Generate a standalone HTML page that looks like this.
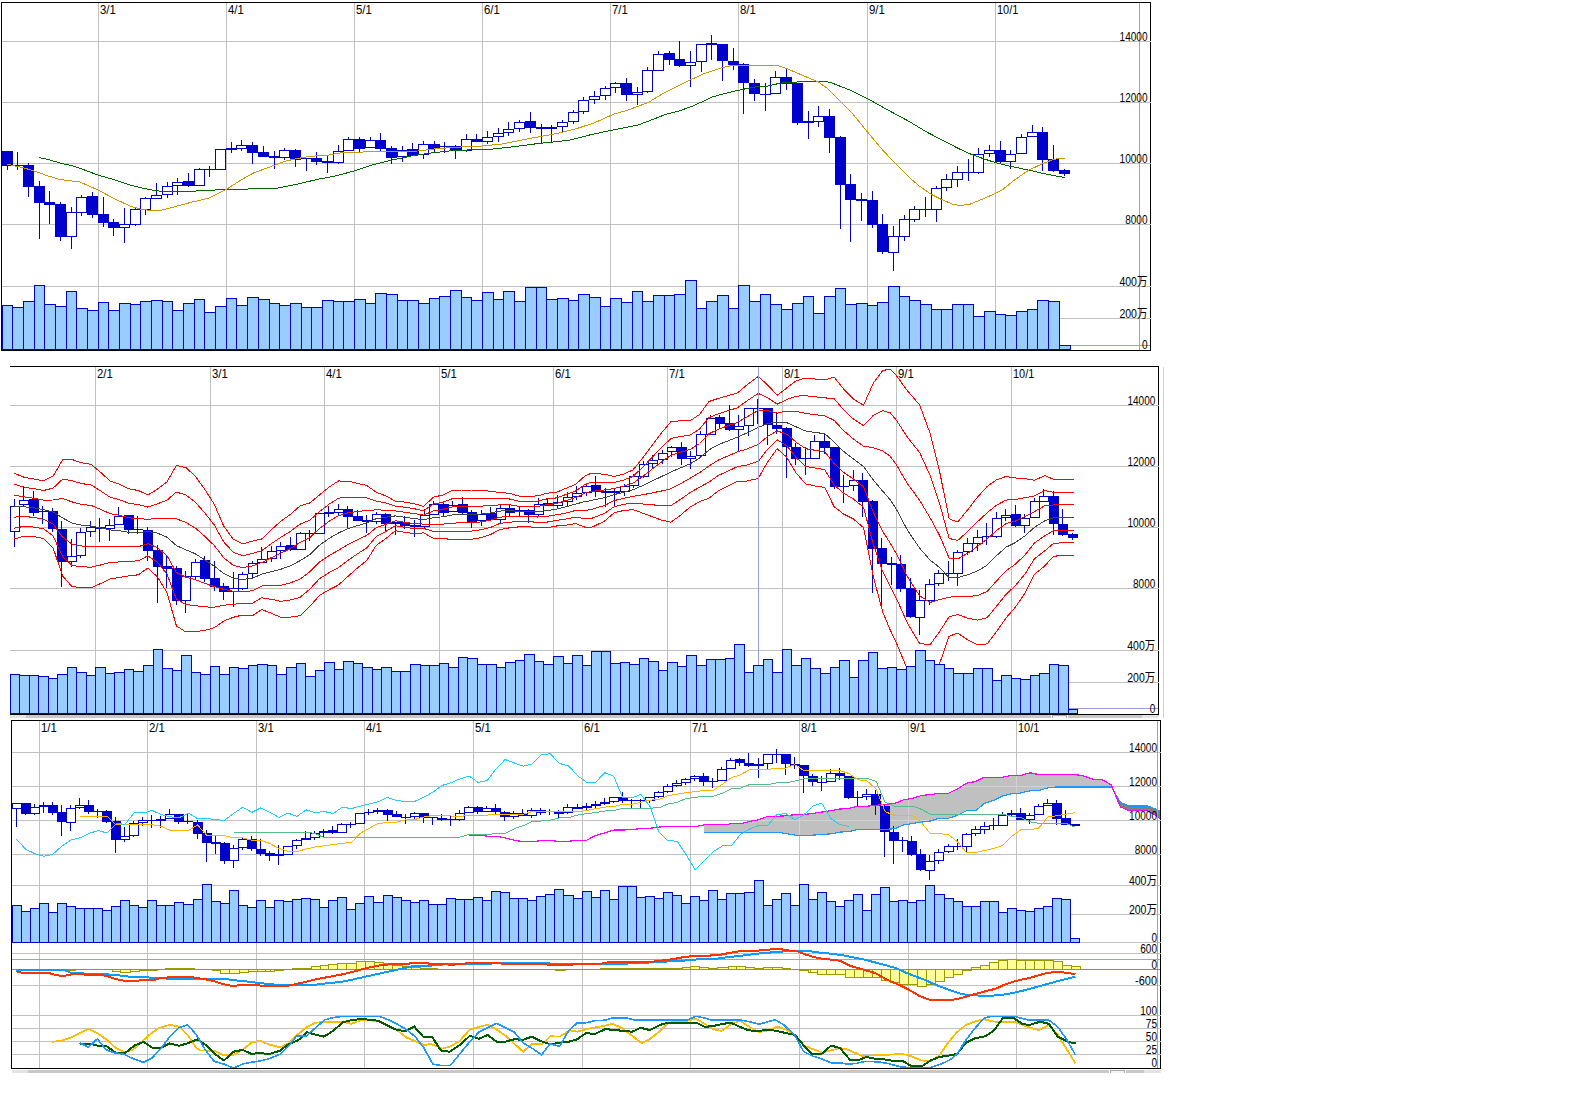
<!DOCTYPE html>
<html><head><meta charset="utf-8"><title>chart</title>
<style>
html,body{margin:0;padding:0;background:#fff;}
svg{display:block}
text{font-family:"Liberation Sans","Noto Sans CJK JP",sans-serif;font-size:12px;fill:#000}
</style></head><body>
<svg width="1582" height="1118" viewBox="0 0 1582 1118" shape-rendering="crispEdges">
<rect x="0" y="0" width="1582" height="1118" fill="#fff"/>
<g id="p1">
<rect x="98" y="2" width="1" height="348" fill="#c0c0c0"/>
<rect x="226" y="2" width="1" height="348" fill="#c0c0c0"/>
<rect x="354" y="2" width="1" height="348" fill="#c0c0c0"/>
<rect x="482" y="2" width="1" height="348" fill="#c0c0c0"/>
<rect x="610" y="2" width="1" height="348" fill="#c0c0c0"/>
<rect x="738" y="2" width="1" height="348" fill="#c0c0c0"/>
<rect x="867" y="2" width="1" height="348" fill="#c0c0c0"/>
<rect x="995" y="2" width="1" height="348" fill="#c0c0c0"/>
<rect x="2" y="41" width="1149" height="1" fill="#c0c0c0"/>
<rect x="2" y="102" width="1149" height="1" fill="#c0c0c0"/>
<rect x="2" y="163" width="1149" height="1" fill="#c0c0c0"/>
<rect x="2" y="224" width="1149" height="1" fill="#c0c0c0"/>
<rect x="2" y="286" width="1149" height="1" fill="#c0c0c0"/>
<rect x="2" y="318" width="1149" height="1" fill="#c0c0c0"/>
<rect x="2" y="345" width="1148" height="1" fill="#9c9ce0"/>
<rect x="1139" y="2" width="1" height="348" fill="#9c9ce0"/>
<rect x="7" y="151" width="1" height="19" fill="#0000cc"/>
<rect x="2" y="151" width="11" height="15" fill="#0000cc"/>
<rect x="17" y="152" width="1" height="18" fill="#0000cc"/>
<rect x="12" y="165" width="11" height="1" fill="#0000cc"/>
<rect x="28" y="163" width="1" height="34" fill="#0000cc"/>
<rect x="23" y="165" width="11" height="22" fill="#0000cc"/>
<rect x="39" y="181" width="1" height="58" fill="#0000cc"/>
<rect x="34" y="186" width="11" height="17" fill="#0000cc"/>
<rect x="49" y="191" width="1" height="33" fill="#0000cc"/>
<rect x="44" y="202" width="11" height="3" fill="#0000cc"/>
<rect x="60" y="202" width="1" height="39" fill="#0000cc"/>
<rect x="55" y="204" width="11" height="33" fill="#0000cc"/>
<rect x="71" y="207" width="1" height="42" fill="#0000cc"/>
<rect x="66.5" y="212.5" width="10" height="24" fill="#fff" stroke="#0000cc" stroke-width="1"/>
<rect x="81" y="195" width="1" height="21" fill="#0000cc"/>
<rect x="76.5" y="197.5" width="10" height="15" fill="#fff" stroke="#0000cc" stroke-width="1"/>
<rect x="92" y="192" width="1" height="26" fill="#0000cc"/>
<rect x="87" y="196" width="11" height="19" fill="#0000cc"/>
<rect x="103" y="197" width="1" height="30" fill="#0000cc"/>
<rect x="98" y="214" width="11" height="9" fill="#0000cc"/>
<rect x="113" y="219" width="1" height="17" fill="#0000cc"/>
<rect x="108" y="222" width="11" height="6" fill="#0000cc"/>
<rect x="124" y="208" width="1" height="35" fill="#0000cc"/>
<rect x="119.5" y="224.5" width="10" height="3" fill="#fff" stroke="#0000cc" stroke-width="1"/>
<rect x="135" y="208" width="1" height="18" fill="#0000cc"/>
<rect x="130.5" y="209.5" width="10" height="15" fill="#fff" stroke="#0000cc" stroke-width="1"/>
<rect x="145" y="197" width="1" height="18" fill="#0000cc"/>
<rect x="140.5" y="198.5" width="10" height="11" fill="#fff" stroke="#0000cc" stroke-width="1"/>
<rect x="156" y="183" width="1" height="16" fill="#0000cc"/>
<rect x="151.5" y="195.5" width="10" height="3" fill="#fff" stroke="#0000cc" stroke-width="1"/>
<rect x="167" y="182" width="1" height="16" fill="#0000cc"/>
<rect x="162.5" y="186.5" width="10" height="8" fill="#fff" stroke="#0000cc" stroke-width="1"/>
<rect x="177" y="178" width="1" height="17" fill="#0000cc"/>
<rect x="172.5" y="182.5" width="10" height="3" fill="#fff" stroke="#0000cc" stroke-width="1"/>
<rect x="188" y="173" width="1" height="14" fill="#0000cc"/>
<rect x="183" y="181" width="11" height="5" fill="#0000cc"/>
<rect x="199" y="168" width="1" height="18" fill="#0000cc"/>
<rect x="194.5" y="169.5" width="10" height="16" fill="#fff" stroke="#0000cc" stroke-width="1"/>
<rect x="209" y="166" width="1" height="11" fill="#0000cc"/>
<rect x="204" y="169" width="11" height="1" fill="#0000cc"/>
<rect x="220" y="149" width="1" height="21" fill="#0000cc"/>
<rect x="215.5" y="149.5" width="10" height="20" fill="#fff" stroke="#0000cc" stroke-width="1"/>
<rect x="231" y="142" width="1" height="11" fill="#0000cc"/>
<rect x="226" y="148" width="11" height="2" fill="#0000cc"/>
<rect x="241" y="140" width="1" height="11" fill="#0000cc"/>
<rect x="236.5" y="145.5" width="10" height="3" fill="#fff" stroke="#0000cc" stroke-width="1"/>
<rect x="252" y="142" width="1" height="22" fill="#0000cc"/>
<rect x="247" y="145" width="11" height="8" fill="#0000cc"/>
<rect x="263" y="146" width="1" height="11" fill="#0000cc"/>
<rect x="258" y="152" width="11" height="5" fill="#0000cc"/>
<rect x="274" y="151" width="1" height="18" fill="#0000cc"/>
<rect x="269" y="156" width="11" height="2" fill="#0000cc"/>
<rect x="284" y="148" width="1" height="12" fill="#0000cc"/>
<rect x="279.5" y="150.5" width="10" height="7" fill="#fff" stroke="#0000cc" stroke-width="1"/>
<rect x="295" y="149" width="1" height="18" fill="#0000cc"/>
<rect x="290" y="150" width="11" height="10" fill="#0000cc"/>
<rect x="306" y="158" width="1" height="13" fill="#0000cc"/>
<rect x="301" y="158" width="11" height="1" fill="#0000cc"/>
<rect x="316" y="152" width="1" height="13" fill="#0000cc"/>
<rect x="311" y="158" width="11" height="4" fill="#0000cc"/>
<rect x="327" y="156" width="1" height="17" fill="#0000cc"/>
<rect x="322" y="161" width="11" height="2" fill="#0000cc"/>
<rect x="338" y="145" width="1" height="19" fill="#0000cc"/>
<rect x="333.5" y="151.5" width="10" height="11" fill="#fff" stroke="#0000cc" stroke-width="1"/>
<rect x="348" y="137" width="1" height="14" fill="#0000cc"/>
<rect x="343.5" y="139.5" width="10" height="11" fill="#fff" stroke="#0000cc" stroke-width="1"/>
<rect x="359" y="137" width="1" height="15" fill="#0000cc"/>
<rect x="354" y="139" width="11" height="10" fill="#0000cc"/>
<rect x="370" y="137" width="1" height="11" fill="#0000cc"/>
<rect x="365.5" y="140.5" width="10" height="7" fill="#fff" stroke="#0000cc" stroke-width="1"/>
<rect x="380" y="133" width="1" height="18" fill="#0000cc"/>
<rect x="375" y="140" width="11" height="9" fill="#0000cc"/>
<rect x="391" y="146" width="1" height="18" fill="#0000cc"/>
<rect x="386" y="148" width="11" height="10" fill="#0000cc"/>
<rect x="402" y="146" width="1" height="16" fill="#0000cc"/>
<rect x="397.5" y="150.5" width="10" height="6" fill="#fff" stroke="#0000cc" stroke-width="1"/>
<rect x="412" y="143" width="1" height="13" fill="#0000cc"/>
<rect x="407" y="149" width="11" height="7" fill="#0000cc"/>
<rect x="423" y="141" width="1" height="18" fill="#0000cc"/>
<rect x="418.5" y="144.5" width="10" height="10" fill="#fff" stroke="#0000cc" stroke-width="1"/>
<rect x="434" y="141" width="1" height="12" fill="#0000cc"/>
<rect x="429" y="144" width="11" height="5" fill="#0000cc"/>
<rect x="444" y="142" width="1" height="11" fill="#0000cc"/>
<rect x="439" y="146" width="11" height="1" fill="#0000cc"/>
<rect x="455" y="145" width="1" height="14" fill="#0000cc"/>
<rect x="450" y="146" width="11" height="5" fill="#0000cc"/>
<rect x="466" y="134" width="1" height="18" fill="#0000cc"/>
<rect x="461.5" y="139.5" width="10" height="11" fill="#fff" stroke="#0000cc" stroke-width="1"/>
<rect x="476" y="134" width="1" height="8" fill="#0000cc"/>
<rect x="471" y="139" width="11" height="3" fill="#0000cc"/>
<rect x="487" y="131" width="1" height="13" fill="#0000cc"/>
<rect x="482.5" y="137.5" width="10" height="4" fill="#fff" stroke="#0000cc" stroke-width="1"/>
<rect x="498" y="128" width="1" height="14" fill="#0000cc"/>
<rect x="493.5" y="133.5" width="10" height="3" fill="#fff" stroke="#0000cc" stroke-width="1"/>
<rect x="508" y="122" width="1" height="14" fill="#0000cc"/>
<rect x="503.5" y="129.5" width="10" height="3" fill="#fff" stroke="#0000cc" stroke-width="1"/>
<rect x="519" y="120" width="1" height="12" fill="#0000cc"/>
<rect x="514.5" y="122.5" width="10" height="6" fill="#fff" stroke="#0000cc" stroke-width="1"/>
<rect x="530" y="112" width="1" height="21" fill="#0000cc"/>
<rect x="525" y="121" width="11" height="7" fill="#0000cc"/>
<rect x="541" y="124" width="1" height="19" fill="#0000cc"/>
<rect x="536" y="127" width="11" height="2" fill="#0000cc"/>
<rect x="551" y="125" width="1" height="17" fill="#0000cc"/>
<rect x="546" y="127" width="11" height="2" fill="#0000cc"/>
<rect x="562" y="120" width="1" height="12" fill="#0000cc"/>
<rect x="557.5" y="122.5" width="10" height="4" fill="#fff" stroke="#0000cc" stroke-width="1"/>
<rect x="573" y="110" width="1" height="14" fill="#0000cc"/>
<rect x="568.5" y="112.5" width="10" height="9" fill="#fff" stroke="#0000cc" stroke-width="1"/>
<rect x="583" y="97" width="1" height="17" fill="#0000cc"/>
<rect x="578.5" y="100.5" width="10" height="11" fill="#fff" stroke="#0000cc" stroke-width="1"/>
<rect x="594" y="91" width="1" height="13" fill="#0000cc"/>
<rect x="589.5" y="96.5" width="10" height="3" fill="#fff" stroke="#0000cc" stroke-width="1"/>
<rect x="605" y="86" width="1" height="14" fill="#0000cc"/>
<rect x="600.5" y="88.5" width="10" height="7" fill="#fff" stroke="#0000cc" stroke-width="1"/>
<rect x="615" y="82" width="1" height="11" fill="#0000cc"/>
<rect x="610.5" y="83.5" width="10" height="4" fill="#fff" stroke="#0000cc" stroke-width="1"/>
<rect x="626" y="78" width="1" height="23" fill="#0000cc"/>
<rect x="621" y="83" width="11" height="12" fill="#0000cc"/>
<rect x="637" y="87" width="1" height="18" fill="#0000cc"/>
<rect x="632.5" y="92.5" width="10" height="2" fill="#fff" stroke="#0000cc" stroke-width="1"/>
<rect x="647" y="67" width="1" height="26" fill="#0000cc"/>
<rect x="642.5" y="70.5" width="10" height="21" fill="#fff" stroke="#0000cc" stroke-width="1"/>
<rect x="658" y="51" width="1" height="20" fill="#0000cc"/>
<rect x="653.5" y="54.5" width="10" height="16" fill="#fff" stroke="#0000cc" stroke-width="1"/>
<rect x="669" y="51" width="1" height="14" fill="#0000cc"/>
<rect x="664" y="53" width="11" height="7" fill="#0000cc"/>
<rect x="679" y="41" width="1" height="26" fill="#0000cc"/>
<rect x="674" y="59" width="11" height="7" fill="#0000cc"/>
<rect x="690" y="51" width="1" height="36" fill="#0000cc"/>
<rect x="685.5" y="62.5" width="10" height="3" fill="#fff" stroke="#0000cc" stroke-width="1"/>
<rect x="701" y="44" width="1" height="28" fill="#0000cc"/>
<rect x="696.5" y="44.5" width="10" height="17" fill="#fff" stroke="#0000cc" stroke-width="1"/>
<rect x="711" y="35" width="1" height="25" fill="#0000cc"/>
<rect x="706" y="43" width="11" height="2" fill="#0000cc"/>
<rect x="722" y="44" width="1" height="37" fill="#0000cc"/>
<rect x="717" y="44" width="11" height="17" fill="#0000cc"/>
<rect x="733" y="48" width="1" height="22" fill="#0000cc"/>
<rect x="728" y="61" width="11" height="4" fill="#0000cc"/>
<rect x="743" y="63" width="1" height="51" fill="#0000cc"/>
<rect x="738" y="64" width="11" height="19" fill="#0000cc"/>
<rect x="754" y="79" width="1" height="22" fill="#0000cc"/>
<rect x="749" y="83" width="11" height="11" fill="#0000cc"/>
<rect x="765" y="83" width="1" height="28" fill="#0000cc"/>
<rect x="760" y="94" width="11" height="1" fill="#0000cc"/>
<rect x="775" y="71" width="1" height="23" fill="#0000cc"/>
<rect x="770.5" y="77.5" width="10" height="16" fill="#fff" stroke="#0000cc" stroke-width="1"/>
<rect x="786" y="69" width="1" height="21" fill="#0000cc"/>
<rect x="781" y="77" width="11" height="7" fill="#0000cc"/>
<rect x="797" y="83" width="1" height="42" fill="#0000cc"/>
<rect x="792" y="83" width="11" height="40" fill="#0000cc"/>
<rect x="808" y="111" width="1" height="28" fill="#0000cc"/>
<rect x="803" y="121" width="11" height="2" fill="#0000cc"/>
<rect x="818" y="106" width="1" height="21" fill="#0000cc"/>
<rect x="813.5" y="116.5" width="10" height="5" fill="#fff" stroke="#0000cc" stroke-width="1"/>
<rect x="829" y="109" width="1" height="44" fill="#0000cc"/>
<rect x="824" y="116" width="11" height="22" fill="#0000cc"/>
<rect x="840" y="136" width="1" height="93" fill="#0000cc"/>
<rect x="835" y="137" width="11" height="48" fill="#0000cc"/>
<rect x="850" y="174" width="1" height="68" fill="#0000cc"/>
<rect x="845" y="184" width="11" height="16" fill="#0000cc"/>
<rect x="861" y="193" width="1" height="28" fill="#0000cc"/>
<rect x="856" y="199" width="11" height="2" fill="#0000cc"/>
<rect x="872" y="191" width="1" height="37" fill="#0000cc"/>
<rect x="867" y="200" width="11" height="25" fill="#0000cc"/>
<rect x="882" y="214" width="1" height="40" fill="#0000cc"/>
<rect x="877" y="224" width="11" height="28" fill="#0000cc"/>
<rect x="893" y="226" width="1" height="45" fill="#0000cc"/>
<rect x="888.5" y="236.5" width="10" height="16" fill="#fff" stroke="#0000cc" stroke-width="1"/>
<rect x="904" y="215" width="1" height="26" fill="#0000cc"/>
<rect x="899.5" y="219.5" width="10" height="17" fill="#fff" stroke="#0000cc" stroke-width="1"/>
<rect x="914" y="206" width="1" height="16" fill="#0000cc"/>
<rect x="909.5" y="209.5" width="10" height="10" fill="#fff" stroke="#0000cc" stroke-width="1"/>
<rect x="925" y="197" width="1" height="20" fill="#0000cc"/>
<rect x="920" y="209" width="11" height="1" fill="#0000cc"/>
<rect x="936" y="186" width="1" height="36" fill="#0000cc"/>
<rect x="931.5" y="188.5" width="10" height="21" fill="#fff" stroke="#0000cc" stroke-width="1"/>
<rect x="946" y="174" width="1" height="17" fill="#0000cc"/>
<rect x="941.5" y="179.5" width="10" height="8" fill="#fff" stroke="#0000cc" stroke-width="1"/>
<rect x="957" y="166" width="1" height="21" fill="#0000cc"/>
<rect x="952.5" y="172.5" width="10" height="7" fill="#fff" stroke="#0000cc" stroke-width="1"/>
<rect x="968" y="159" width="1" height="22" fill="#0000cc"/>
<rect x="963" y="172" width="11" height="1" fill="#0000cc"/>
<rect x="978" y="148" width="1" height="26" fill="#0000cc"/>
<rect x="973.5" y="154.5" width="10" height="18" fill="#fff" stroke="#0000cc" stroke-width="1"/>
<rect x="989" y="145" width="1" height="12" fill="#0000cc"/>
<rect x="984.5" y="150.5" width="10" height="3" fill="#fff" stroke="#0000cc" stroke-width="1"/>
<rect x="1000" y="141" width="1" height="22" fill="#0000cc"/>
<rect x="995" y="150" width="11" height="12" fill="#0000cc"/>
<rect x="1010" y="150" width="1" height="19" fill="#0000cc"/>
<rect x="1005.5" y="154.5" width="10" height="7" fill="#fff" stroke="#0000cc" stroke-width="1"/>
<rect x="1021" y="134" width="1" height="20" fill="#0000cc"/>
<rect x="1016.5" y="137.5" width="10" height="16" fill="#fff" stroke="#0000cc" stroke-width="1"/>
<rect x="1032" y="125" width="1" height="12" fill="#0000cc"/>
<rect x="1027.5" y="132.5" width="10" height="4" fill="#fff" stroke="#0000cc" stroke-width="1"/>
<rect x="1042" y="127" width="1" height="44" fill="#0000cc"/>
<rect x="1037" y="132" width="11" height="28" fill="#0000cc"/>
<rect x="1053" y="145" width="1" height="27" fill="#0000cc"/>
<rect x="1048" y="159" width="11" height="12" fill="#0000cc"/>
<rect x="1064" y="169" width="1" height="7" fill="#0000cc"/>
<rect x="1059" y="170" width="11" height="4" fill="#0000cc"/>
<rect x="2.5" y="305.5" width="10" height="44" fill="#99ccff" stroke="#0000cc" stroke-width="1"/>
<rect x="12.5" y="307.5" width="11" height="42" fill="#99ccff" stroke="#0000cc" stroke-width="1"/>
<rect x="23.5" y="301.5" width="11" height="48" fill="#99ccff" stroke="#0000cc" stroke-width="1"/>
<rect x="34.5" y="285.5" width="10" height="64" fill="#99ccff" stroke="#0000cc" stroke-width="1"/>
<rect x="44.5" y="304.5" width="11" height="45" fill="#99ccff" stroke="#0000cc" stroke-width="1"/>
<rect x="55.5" y="306.5" width="11" height="43" fill="#99ccff" stroke="#0000cc" stroke-width="1"/>
<rect x="66.5" y="291.5" width="10" height="58" fill="#99ccff" stroke="#0000cc" stroke-width="1"/>
<rect x="76.5" y="308.5" width="11" height="41" fill="#99ccff" stroke="#0000cc" stroke-width="1"/>
<rect x="87.5" y="310.5" width="11" height="39" fill="#99ccff" stroke="#0000cc" stroke-width="1"/>
<rect x="98.5" y="302.5" width="10" height="47" fill="#99ccff" stroke="#0000cc" stroke-width="1"/>
<rect x="108.5" y="310.5" width="11" height="39" fill="#99ccff" stroke="#0000cc" stroke-width="1"/>
<rect x="119.5" y="303.5" width="11" height="46" fill="#99ccff" stroke="#0000cc" stroke-width="1"/>
<rect x="130.5" y="304.5" width="10" height="45" fill="#99ccff" stroke="#0000cc" stroke-width="1"/>
<rect x="140.5" y="301.5" width="11" height="48" fill="#99ccff" stroke="#0000cc" stroke-width="1"/>
<rect x="151.5" y="300.5" width="11" height="49" fill="#99ccff" stroke="#0000cc" stroke-width="1"/>
<rect x="162.5" y="301.5" width="10" height="48" fill="#99ccff" stroke="#0000cc" stroke-width="1"/>
<rect x="172.5" y="310.5" width="11" height="39" fill="#99ccff" stroke="#0000cc" stroke-width="1"/>
<rect x="183.5" y="303.5" width="11" height="46" fill="#99ccff" stroke="#0000cc" stroke-width="1"/>
<rect x="194.5" y="299.5" width="10" height="50" fill="#99ccff" stroke="#0000cc" stroke-width="1"/>
<rect x="204.5" y="312.5" width="11" height="37" fill="#99ccff" stroke="#0000cc" stroke-width="1"/>
<rect x="215.5" y="306.5" width="11" height="43" fill="#99ccff" stroke="#0000cc" stroke-width="1"/>
<rect x="226.5" y="298.5" width="10" height="51" fill="#99ccff" stroke="#0000cc" stroke-width="1"/>
<rect x="236.5" y="305.5" width="11" height="44" fill="#99ccff" stroke="#0000cc" stroke-width="1"/>
<rect x="247.5" y="297.5" width="11" height="52" fill="#99ccff" stroke="#0000cc" stroke-width="1"/>
<rect x="258.5" y="299.5" width="11" height="50" fill="#99ccff" stroke="#0000cc" stroke-width="1"/>
<rect x="269.5" y="303.5" width="10" height="46" fill="#99ccff" stroke="#0000cc" stroke-width="1"/>
<rect x="279.5" y="305.5" width="11" height="44" fill="#99ccff" stroke="#0000cc" stroke-width="1"/>
<rect x="290.5" y="303.5" width="11" height="46" fill="#99ccff" stroke="#0000cc" stroke-width="1"/>
<rect x="301.5" y="307.5" width="10" height="42" fill="#99ccff" stroke="#0000cc" stroke-width="1"/>
<rect x="311.5" y="307.5" width="11" height="42" fill="#99ccff" stroke="#0000cc" stroke-width="1"/>
<rect x="322.5" y="300.5" width="11" height="49" fill="#99ccff" stroke="#0000cc" stroke-width="1"/>
<rect x="333.5" y="301.5" width="10" height="48" fill="#99ccff" stroke="#0000cc" stroke-width="1"/>
<rect x="343.5" y="301.5" width="11" height="48" fill="#99ccff" stroke="#0000cc" stroke-width="1"/>
<rect x="354.5" y="299.5" width="11" height="50" fill="#99ccff" stroke="#0000cc" stroke-width="1"/>
<rect x="365.5" y="303.5" width="10" height="46" fill="#99ccff" stroke="#0000cc" stroke-width="1"/>
<rect x="375.5" y="293.5" width="11" height="56" fill="#99ccff" stroke="#0000cc" stroke-width="1"/>
<rect x="386.5" y="294.5" width="11" height="55" fill="#99ccff" stroke="#0000cc" stroke-width="1"/>
<rect x="397.5" y="300.5" width="10" height="49" fill="#99ccff" stroke="#0000cc" stroke-width="1"/>
<rect x="407.5" y="300.5" width="11" height="49" fill="#99ccff" stroke="#0000cc" stroke-width="1"/>
<rect x="418.5" y="303.5" width="11" height="46" fill="#99ccff" stroke="#0000cc" stroke-width="1"/>
<rect x="429.5" y="298.5" width="10" height="51" fill="#99ccff" stroke="#0000cc" stroke-width="1"/>
<rect x="439.5" y="296.5" width="11" height="53" fill="#99ccff" stroke="#0000cc" stroke-width="1"/>
<rect x="450.5" y="290.5" width="11" height="59" fill="#99ccff" stroke="#0000cc" stroke-width="1"/>
<rect x="461.5" y="297.5" width="10" height="52" fill="#99ccff" stroke="#0000cc" stroke-width="1"/>
<rect x="471.5" y="300.5" width="11" height="49" fill="#99ccff" stroke="#0000cc" stroke-width="1"/>
<rect x="482.5" y="292.5" width="11" height="57" fill="#99ccff" stroke="#0000cc" stroke-width="1"/>
<rect x="493.5" y="299.5" width="10" height="50" fill="#99ccff" stroke="#0000cc" stroke-width="1"/>
<rect x="503.5" y="291.5" width="11" height="58" fill="#99ccff" stroke="#0000cc" stroke-width="1"/>
<rect x="514.5" y="301.5" width="11" height="48" fill="#99ccff" stroke="#0000cc" stroke-width="1"/>
<rect x="525.5" y="287.5" width="11" height="62" fill="#99ccff" stroke="#0000cc" stroke-width="1"/>
<rect x="536.5" y="287.5" width="10" height="62" fill="#99ccff" stroke="#0000cc" stroke-width="1"/>
<rect x="546.5" y="299.5" width="11" height="50" fill="#99ccff" stroke="#0000cc" stroke-width="1"/>
<rect x="557.5" y="298.5" width="11" height="51" fill="#99ccff" stroke="#0000cc" stroke-width="1"/>
<rect x="568.5" y="300.5" width="10" height="49" fill="#99ccff" stroke="#0000cc" stroke-width="1"/>
<rect x="578.5" y="294.5" width="11" height="55" fill="#99ccff" stroke="#0000cc" stroke-width="1"/>
<rect x="589.5" y="297.5" width="11" height="52" fill="#99ccff" stroke="#0000cc" stroke-width="1"/>
<rect x="600.5" y="306.5" width="10" height="43" fill="#99ccff" stroke="#0000cc" stroke-width="1"/>
<rect x="610.5" y="298.5" width="11" height="51" fill="#99ccff" stroke="#0000cc" stroke-width="1"/>
<rect x="621.5" y="302.5" width="11" height="47" fill="#99ccff" stroke="#0000cc" stroke-width="1"/>
<rect x="632.5" y="291.5" width="10" height="58" fill="#99ccff" stroke="#0000cc" stroke-width="1"/>
<rect x="642.5" y="301.5" width="11" height="48" fill="#99ccff" stroke="#0000cc" stroke-width="1"/>
<rect x="653.5" y="295.5" width="11" height="54" fill="#99ccff" stroke="#0000cc" stroke-width="1"/>
<rect x="664.5" y="295.5" width="10" height="54" fill="#99ccff" stroke="#0000cc" stroke-width="1"/>
<rect x="674.5" y="294.5" width="11" height="55" fill="#99ccff" stroke="#0000cc" stroke-width="1"/>
<rect x="685.5" y="280.5" width="11" height="69" fill="#99ccff" stroke="#0000cc" stroke-width="1"/>
<rect x="696.5" y="308.5" width="10" height="41" fill="#99ccff" stroke="#0000cc" stroke-width="1"/>
<rect x="706.5" y="301.5" width="11" height="48" fill="#99ccff" stroke="#0000cc" stroke-width="1"/>
<rect x="717.5" y="295.5" width="11" height="54" fill="#99ccff" stroke="#0000cc" stroke-width="1"/>
<rect x="728.5" y="308.5" width="10" height="41" fill="#99ccff" stroke="#0000cc" stroke-width="1"/>
<rect x="738.5" y="285.5" width="11" height="64" fill="#99ccff" stroke="#0000cc" stroke-width="1"/>
<rect x="749.5" y="301.5" width="11" height="48" fill="#99ccff" stroke="#0000cc" stroke-width="1"/>
<rect x="760.5" y="294.5" width="10" height="55" fill="#99ccff" stroke="#0000cc" stroke-width="1"/>
<rect x="770.5" y="304.5" width="11" height="45" fill="#99ccff" stroke="#0000cc" stroke-width="1"/>
<rect x="781.5" y="309.5" width="11" height="40" fill="#99ccff" stroke="#0000cc" stroke-width="1"/>
<rect x="792.5" y="303.5" width="11" height="46" fill="#99ccff" stroke="#0000cc" stroke-width="1"/>
<rect x="803.5" y="296.5" width="10" height="53" fill="#99ccff" stroke="#0000cc" stroke-width="1"/>
<rect x="813.5" y="313.5" width="11" height="36" fill="#99ccff" stroke="#0000cc" stroke-width="1"/>
<rect x="824.5" y="296.5" width="11" height="53" fill="#99ccff" stroke="#0000cc" stroke-width="1"/>
<rect x="835.5" y="288.5" width="10" height="61" fill="#99ccff" stroke="#0000cc" stroke-width="1"/>
<rect x="845.5" y="304.5" width="11" height="45" fill="#99ccff" stroke="#0000cc" stroke-width="1"/>
<rect x="856.5" y="303.5" width="11" height="46" fill="#99ccff" stroke="#0000cc" stroke-width="1"/>
<rect x="867.5" y="305.5" width="10" height="44" fill="#99ccff" stroke="#0000cc" stroke-width="1"/>
<rect x="877.5" y="302.5" width="11" height="47" fill="#99ccff" stroke="#0000cc" stroke-width="1"/>
<rect x="888.5" y="286.5" width="11" height="63" fill="#99ccff" stroke="#0000cc" stroke-width="1"/>
<rect x="899.5" y="296.5" width="10" height="53" fill="#99ccff" stroke="#0000cc" stroke-width="1"/>
<rect x="909.5" y="300.5" width="11" height="49" fill="#99ccff" stroke="#0000cc" stroke-width="1"/>
<rect x="920.5" y="304.5" width="11" height="45" fill="#99ccff" stroke="#0000cc" stroke-width="1"/>
<rect x="931.5" y="309.5" width="10" height="40" fill="#99ccff" stroke="#0000cc" stroke-width="1"/>
<rect x="941.5" y="309.5" width="11" height="40" fill="#99ccff" stroke="#0000cc" stroke-width="1"/>
<rect x="952.5" y="304.5" width="11" height="45" fill="#99ccff" stroke="#0000cc" stroke-width="1"/>
<rect x="963.5" y="304.5" width="10" height="45" fill="#99ccff" stroke="#0000cc" stroke-width="1"/>
<rect x="973.5" y="316.5" width="11" height="33" fill="#99ccff" stroke="#0000cc" stroke-width="1"/>
<rect x="984.5" y="311.5" width="11" height="38" fill="#99ccff" stroke="#0000cc" stroke-width="1"/>
<rect x="995.5" y="314.5" width="10" height="35" fill="#99ccff" stroke="#0000cc" stroke-width="1"/>
<rect x="1005.5" y="315.5" width="11" height="34" fill="#99ccff" stroke="#0000cc" stroke-width="1"/>
<rect x="1016.5" y="311.5" width="11" height="38" fill="#99ccff" stroke="#0000cc" stroke-width="1"/>
<rect x="1027.5" y="309.5" width="10" height="40" fill="#99ccff" stroke="#0000cc" stroke-width="1"/>
<rect x="1037.5" y="300.5" width="11" height="49" fill="#99ccff" stroke="#0000cc" stroke-width="1"/>
<rect x="1048.5" y="301.5" width="11" height="48" fill="#99ccff" stroke="#0000cc" stroke-width="1"/>
<rect x="1059.5" y="345.5" width="11" height="4" fill="#99ccff" stroke="#0000cc" stroke-width="1"/>
<polyline points="39.0,157.5 50.0,160.0 60.0,163.0 75.0,166.5 98.0,175.0 115.0,180.0 130.0,185.0 140.0,187.5 152.0,190.0 163.0,191.5 190.0,191.3 226.7,189.4 276.0,188.5 297.5,184.1 316.4,179.6 335.4,175.9 354.3,171.0 369.5,165.7 391.4,160.1 412.9,155.7 431.9,152.9 450.9,150.8 471.1,149.8 492.6,149.1 514.0,146.6 539.3,143.4 558.3,141.5 570.0,140.1 590.3,134.8 615.6,129.4 638.3,124.9 653.5,119.2 666.1,114.2 678.8,111.0 691.4,106.6 704.1,100.9 711.6,97.1 729.3,92.3 742.0,89.5 754.6,87.0 766.4,86.4 780.3,83.1 803.1,81.6 822.1,81.0 830.9,82.6 851.1,90.5 867.6,98.7 889.1,110.7 908.0,120.8 927.0,132.2 942.0,140.0 959.1,148.8 971.7,154.5 984.3,159.0 997.0,163.1 1010.4,166.3 1028.7,170.1 1048.4,174.6 1064.8,177.5" fill="none" stroke="#006600" stroke-width="1"/>
<polyline points="7.0,164.2 20.0,167.0 33.0,170.5 47.0,175.6 60.0,179.5 80.0,182.0 98.0,190.0 115.0,199.0 130.0,206.0 140.0,209.0 150.0,210.5 158.0,211.0 170.0,208.0 190.0,202.6 209.0,198.0 226.7,189.1 240.6,180.3 253.2,173.1 274.0,165.4 284.8,161.3 295.0,159.0 310.0,156.3 327.8,155.2 338.5,153.1 354.4,152.2 373.3,151.8 396.5,151.3 418.0,151.0 438.2,148.5 461.0,147.0 482.5,146.0 501.4,144.1 520.4,140.3 539.3,136.7 558.3,133.3 577.6,128.3 594.7,122.7 613.0,114.4 628.2,110.0 648.4,102.4 661.1,94.6 678.8,85.7 691.4,79.4 704.1,73.7 716.7,69.3 726.8,66.4 734.4,65.3 777.2,65.4 787.9,69.0 806.9,77.2 818.3,81.9 828.4,89.2 838.5,99.3 851.1,111.9 867.6,132.2 880.2,147.3 892.1,160.2 908.5,176.7 918.6,185.5 931.3,194.4 941.4,199.4 952.7,204.2 959.1,205.5 969.2,204.5 981.8,199.4 993.3,194.4 1002.8,189.5 1014.2,180.3 1028.7,170.1 1042.4,163.8 1053.0,159.6 1059.1,158.4 1064.8,158.4" fill="none" stroke="#cc9900" stroke-width="1"/>
<rect x="1" y="2" width="1150" height="1" fill="#000"/>
<rect x="1" y="2" width="1" height="349" fill="#000"/>
<rect x="1150" y="2" width="1" height="349" fill="#000"/>
<rect x="1" y="350" width="1150" height="1" fill="#000"/>
<rect x="1150" y="41" width="1" height="1" fill="#c0c0c0"/>
<rect x="1150" y="102" width="1" height="1" fill="#c0c0c0"/>
<rect x="1150" y="163" width="1" height="1" fill="#c0c0c0"/>
<rect x="1150" y="224" width="1" height="1" fill="#c0c0c0"/>
<rect x="1150" y="286" width="1" height="1" fill="#c0c0c0"/>
<rect x="1150" y="318" width="1" height="1" fill="#c0c0c0"/>
<text x="100" y="13.6" textLength="15.8" lengthAdjust="spacingAndGlyphs">3/1</text>
<text x="228" y="13.6" textLength="15.8" lengthAdjust="spacingAndGlyphs">4/1</text>
<text x="356" y="13.6" textLength="15.8" lengthAdjust="spacingAndGlyphs">5/1</text>
<text x="484" y="13.6" textLength="15.8" lengthAdjust="spacingAndGlyphs">6/1</text>
<text x="612" y="13.6" textLength="15.8" lengthAdjust="spacingAndGlyphs">7/1</text>
<text x="740" y="13.6" textLength="15.8" lengthAdjust="spacingAndGlyphs">8/1</text>
<text x="869" y="13.6" textLength="15.8" lengthAdjust="spacingAndGlyphs">9/1</text>
<text x="997" y="13.6" textLength="21.3" lengthAdjust="spacingAndGlyphs">10/1</text>
<text x="1147.5" y="41.1" text-anchor="end" textLength="27.9" lengthAdjust="spacingAndGlyphs">14000</text>
<text x="1147.5" y="102.1" text-anchor="end" textLength="27.9" lengthAdjust="spacingAndGlyphs">12000</text>
<text x="1147.5" y="163.1" text-anchor="end" textLength="27.9" lengthAdjust="spacingAndGlyphs">10000</text>
<text x="1147.5" y="224.1" text-anchor="end" textLength="22.3" lengthAdjust="spacingAndGlyphs">8000</text>
<text x="1147.5" y="286.1" text-anchor="end" textLength="28.1" lengthAdjust="spacingAndGlyphs">400万</text>
<text x="1147.5" y="318.1" text-anchor="end" textLength="28.1" lengthAdjust="spacingAndGlyphs">200万</text>
<text x="1147.5" y="349" text-anchor="end" textLength="5.6" lengthAdjust="spacingAndGlyphs">0</text>
</g>
<g id="p2">
<rect x="95" y="367" width="1" height="346" fill="#c0c0c0"/>
<rect x="210" y="367" width="1" height="346" fill="#c0c0c0"/>
<rect x="324" y="367" width="1" height="346" fill="#c0c0c0"/>
<rect x="439" y="367" width="1" height="346" fill="#c0c0c0"/>
<rect x="553" y="367" width="1" height="346" fill="#c0c0c0"/>
<rect x="667" y="367" width="1" height="346" fill="#c0c0c0"/>
<rect x="782" y="367" width="1" height="346" fill="#c0c0c0"/>
<rect x="896" y="367" width="1" height="346" fill="#c0c0c0"/>
<rect x="1011" y="367" width="1" height="346" fill="#c0c0c0"/>
<rect x="10" y="405" width="1149" height="1" fill="#c0c0c0"/>
<rect x="10" y="466" width="1149" height="1" fill="#c0c0c0"/>
<rect x="10" y="527" width="1149" height="1" fill="#c0c0c0"/>
<rect x="10" y="588" width="1149" height="1" fill="#c0c0c0"/>
<rect x="10" y="650" width="1149" height="1" fill="#c0c0c0"/>
<rect x="10" y="682" width="1149" height="1" fill="#c0c0c0"/>
<rect x="10" y="708" width="1148" height="1" fill="#9c9ce0"/>
<rect x="14" y="499" width="1" height="48" fill="#0000cc"/>
<rect x="10.5" y="506.5" width="9" height="25" fill="#fff" stroke="#0000cc" stroke-width="1"/>
<rect x="23" y="486" width="1" height="21" fill="#0000cc"/>
<rect x="19.5" y="500.5" width="9" height="4" fill="#fff" stroke="#0000cc" stroke-width="1"/>
<rect x="33" y="491" width="1" height="25" fill="#0000cc"/>
<rect x="29" y="499" width="10" height="14" fill="#0000cc"/>
<rect x="42" y="506" width="1" height="18" fill="#0000cc"/>
<rect x="38" y="511" width="10" height="1" fill="#0000cc"/>
<rect x="52" y="508" width="1" height="24" fill="#0000cc"/>
<rect x="48" y="511" width="10" height="18" fill="#0000cc"/>
<rect x="61" y="521" width="1" height="66" fill="#0000cc"/>
<rect x="57" y="529" width="10" height="33" fill="#0000cc"/>
<rect x="71" y="539" width="1" height="28" fill="#0000cc"/>
<rect x="67.5" y="556.5" width="9" height="5" fill="#fff" stroke="#0000cc" stroke-width="1"/>
<rect x="80" y="528" width="1" height="30" fill="#0000cc"/>
<rect x="76.5" y="532.5" width="9" height="23" fill="#fff" stroke="#0000cc" stroke-width="1"/>
<rect x="90" y="521" width="1" height="16" fill="#0000cc"/>
<rect x="86.5" y="527.5" width="9" height="4" fill="#fff" stroke="#0000cc" stroke-width="1"/>
<rect x="99" y="518" width="1" height="24" fill="#0000cc"/>
<rect x="95" y="527" width="10" height="2" fill="#0000cc"/>
<rect x="109" y="519" width="1" height="22" fill="#0000cc"/>
<rect x="105.5" y="525.5" width="9" height="3" fill="#fff" stroke="#0000cc" stroke-width="1"/>
<rect x="118" y="507" width="1" height="18" fill="#0000cc"/>
<rect x="114.5" y="516.5" width="9" height="8" fill="#fff" stroke="#0000cc" stroke-width="1"/>
<rect x="128" y="515" width="1" height="19" fill="#0000cc"/>
<rect x="124" y="515" width="10" height="15" fill="#0000cc"/>
<rect x="137" y="516" width="1" height="18" fill="#0000cc"/>
<rect x="133" y="529" width="10" height="1" fill="#0000cc"/>
<rect x="147" y="527" width="1" height="34" fill="#0000cc"/>
<rect x="143" y="530" width="10" height="21" fill="#0000cc"/>
<rect x="157" y="545" width="1" height="58" fill="#0000cc"/>
<rect x="153" y="550" width="10" height="17" fill="#0000cc"/>
<rect x="166" y="555" width="1" height="33" fill="#0000cc"/>
<rect x="162" y="566" width="10" height="3" fill="#0000cc"/>
<rect x="176" y="566" width="1" height="39" fill="#0000cc"/>
<rect x="172" y="568" width="10" height="33" fill="#0000cc"/>
<rect x="185" y="571" width="1" height="42" fill="#0000cc"/>
<rect x="181.5" y="576.5" width="9" height="24" fill="#fff" stroke="#0000cc" stroke-width="1"/>
<rect x="195" y="559" width="1" height="21" fill="#0000cc"/>
<rect x="191.5" y="562.5" width="9" height="14" fill="#fff" stroke="#0000cc" stroke-width="1"/>
<rect x="204" y="556" width="1" height="26" fill="#0000cc"/>
<rect x="200" y="560" width="10" height="19" fill="#0000cc"/>
<rect x="214" y="561" width="1" height="30" fill="#0000cc"/>
<rect x="210" y="578" width="10" height="9" fill="#0000cc"/>
<rect x="223" y="583" width="1" height="17" fill="#0000cc"/>
<rect x="219" y="586" width="10" height="6" fill="#0000cc"/>
<rect x="233" y="572" width="1" height="35" fill="#0000cc"/>
<rect x="229.5" y="588.5" width="9" height="3" fill="#fff" stroke="#0000cc" stroke-width="1"/>
<rect x="242" y="572" width="1" height="18" fill="#0000cc"/>
<rect x="238.5" y="574.5" width="9" height="14" fill="#fff" stroke="#0000cc" stroke-width="1"/>
<rect x="252" y="561" width="1" height="18" fill="#0000cc"/>
<rect x="248.5" y="563.5" width="9" height="10" fill="#fff" stroke="#0000cc" stroke-width="1"/>
<rect x="261" y="547" width="1" height="16" fill="#0000cc"/>
<rect x="257.5" y="559.5" width="9" height="3" fill="#fff" stroke="#0000cc" stroke-width="1"/>
<rect x="271" y="546" width="1" height="16" fill="#0000cc"/>
<rect x="267.5" y="551.5" width="9" height="7" fill="#fff" stroke="#0000cc" stroke-width="1"/>
<rect x="280" y="542" width="1" height="17" fill="#0000cc"/>
<rect x="276.5" y="546.5" width="9" height="4" fill="#fff" stroke="#0000cc" stroke-width="1"/>
<rect x="290" y="537" width="1" height="14" fill="#0000cc"/>
<rect x="286" y="545" width="10" height="5" fill="#0000cc"/>
<rect x="300" y="532" width="1" height="18" fill="#0000cc"/>
<rect x="296.5" y="533.5" width="9" height="16" fill="#fff" stroke="#0000cc" stroke-width="1"/>
<rect x="309" y="530" width="1" height="11" fill="#0000cc"/>
<rect x="305" y="533" width="10" height="1" fill="#0000cc"/>
<rect x="319" y="513" width="1" height="21" fill="#0000cc"/>
<rect x="315.5" y="513.5" width="9" height="20" fill="#fff" stroke="#0000cc" stroke-width="1"/>
<rect x="328" y="506" width="1" height="11" fill="#0000cc"/>
<rect x="324" y="512" width="10" height="2" fill="#0000cc"/>
<rect x="338" y="504" width="1" height="11" fill="#0000cc"/>
<rect x="334.5" y="509.5" width="9" height="3" fill="#fff" stroke="#0000cc" stroke-width="1"/>
<rect x="347" y="506" width="1" height="22" fill="#0000cc"/>
<rect x="343" y="509" width="10" height="8" fill="#0000cc"/>
<rect x="357" y="510" width="1" height="11" fill="#0000cc"/>
<rect x="353" y="516" width="10" height="5" fill="#0000cc"/>
<rect x="366" y="515" width="1" height="18" fill="#0000cc"/>
<rect x="362" y="520" width="10" height="2" fill="#0000cc"/>
<rect x="376" y="512" width="1" height="12" fill="#0000cc"/>
<rect x="372.5" y="514.5" width="9" height="7" fill="#fff" stroke="#0000cc" stroke-width="1"/>
<rect x="385" y="513" width="1" height="18" fill="#0000cc"/>
<rect x="381" y="514" width="10" height="10" fill="#0000cc"/>
<rect x="395" y="522" width="1" height="13" fill="#0000cc"/>
<rect x="391" y="522" width="10" height="2" fill="#0000cc"/>
<rect x="404" y="516" width="1" height="13" fill="#0000cc"/>
<rect x="400" y="522" width="10" height="4" fill="#0000cc"/>
<rect x="414" y="520" width="1" height="17" fill="#0000cc"/>
<rect x="410" y="525" width="10" height="2" fill="#0000cc"/>
<rect x="424" y="509" width="1" height="19" fill="#0000cc"/>
<rect x="420.5" y="515.5" width="9" height="11" fill="#fff" stroke="#0000cc" stroke-width="1"/>
<rect x="433" y="501" width="1" height="14" fill="#0000cc"/>
<rect x="429.5" y="504.5" width="9" height="10" fill="#fff" stroke="#0000cc" stroke-width="1"/>
<rect x="443" y="501" width="1" height="15" fill="#0000cc"/>
<rect x="439" y="504" width="10" height="9" fill="#0000cc"/>
<rect x="452" y="501" width="1" height="11" fill="#0000cc"/>
<rect x="448.5" y="505.5" width="9" height="6" fill="#fff" stroke="#0000cc" stroke-width="1"/>
<rect x="462" y="497" width="1" height="18" fill="#0000cc"/>
<rect x="458" y="504" width="10" height="9" fill="#0000cc"/>
<rect x="471" y="510" width="1" height="18" fill="#0000cc"/>
<rect x="467" y="512" width="10" height="10" fill="#0000cc"/>
<rect x="481" y="510" width="1" height="16" fill="#0000cc"/>
<rect x="477.5" y="514.5" width="9" height="6" fill="#fff" stroke="#0000cc" stroke-width="1"/>
<rect x="490" y="507" width="1" height="13" fill="#0000cc"/>
<rect x="486" y="513" width="10" height="7" fill="#0000cc"/>
<rect x="500" y="505" width="1" height="18" fill="#0000cc"/>
<rect x="496.5" y="508.5" width="9" height="11" fill="#fff" stroke="#0000cc" stroke-width="1"/>
<rect x="509" y="505" width="1" height="12" fill="#0000cc"/>
<rect x="505" y="508" width="10" height="5" fill="#0000cc"/>
<rect x="519" y="506" width="1" height="11" fill="#0000cc"/>
<rect x="515" y="510" width="10" height="1" fill="#0000cc"/>
<rect x="528" y="509" width="1" height="14" fill="#0000cc"/>
<rect x="524" y="510" width="10" height="5" fill="#0000cc"/>
<rect x="538" y="498" width="1" height="18" fill="#0000cc"/>
<rect x="534.5" y="504.5" width="9" height="10" fill="#fff" stroke="#0000cc" stroke-width="1"/>
<rect x="547" y="498" width="1" height="8" fill="#0000cc"/>
<rect x="543" y="503" width="10" height="3" fill="#0000cc"/>
<rect x="557" y="495" width="1" height="13" fill="#0000cc"/>
<rect x="553.5" y="502.5" width="9" height="3" fill="#fff" stroke="#0000cc" stroke-width="1"/>
<rect x="567" y="492" width="1" height="14" fill="#0000cc"/>
<rect x="563.5" y="497.5" width="9" height="4" fill="#fff" stroke="#0000cc" stroke-width="1"/>
<rect x="576" y="486" width="1" height="14" fill="#0000cc"/>
<rect x="572.5" y="493.5" width="9" height="3" fill="#fff" stroke="#0000cc" stroke-width="1"/>
<rect x="586" y="484" width="1" height="12" fill="#0000cc"/>
<rect x="582.5" y="486.5" width="9" height="6" fill="#fff" stroke="#0000cc" stroke-width="1"/>
<rect x="595" y="476" width="1" height="21" fill="#0000cc"/>
<rect x="591" y="485" width="10" height="7" fill="#0000cc"/>
<rect x="605" y="488" width="1" height="19" fill="#0000cc"/>
<rect x="601" y="491" width="10" height="2" fill="#0000cc"/>
<rect x="614" y="489" width="1" height="17" fill="#0000cc"/>
<rect x="610" y="491" width="10" height="2" fill="#0000cc"/>
<rect x="624" y="484" width="1" height="12" fill="#0000cc"/>
<rect x="620.5" y="486.5" width="9" height="5" fill="#fff" stroke="#0000cc" stroke-width="1"/>
<rect x="633" y="474" width="1" height="14" fill="#0000cc"/>
<rect x="629.5" y="476.5" width="9" height="9" fill="#fff" stroke="#0000cc" stroke-width="1"/>
<rect x="643" y="461" width="1" height="17" fill="#0000cc"/>
<rect x="639.5" y="464.5" width="9" height="12" fill="#fff" stroke="#0000cc" stroke-width="1"/>
<rect x="652" y="455" width="1" height="13" fill="#0000cc"/>
<rect x="648.5" y="460.5" width="9" height="3" fill="#fff" stroke="#0000cc" stroke-width="1"/>
<rect x="662" y="450" width="1" height="14" fill="#0000cc"/>
<rect x="658.5" y="453.5" width="9" height="6" fill="#fff" stroke="#0000cc" stroke-width="1"/>
<rect x="671" y="446" width="1" height="11" fill="#0000cc"/>
<rect x="667.5" y="447.5" width="9" height="4" fill="#fff" stroke="#0000cc" stroke-width="1"/>
<rect x="681" y="442" width="1" height="23" fill="#0000cc"/>
<rect x="677" y="447" width="10" height="12" fill="#0000cc"/>
<rect x="690" y="451" width="1" height="18" fill="#0000cc"/>
<rect x="686.5" y="456.5" width="9" height="2" fill="#fff" stroke="#0000cc" stroke-width="1"/>
<rect x="700" y="431" width="1" height="26" fill="#0000cc"/>
<rect x="696.5" y="434.5" width="9" height="21" fill="#fff" stroke="#0000cc" stroke-width="1"/>
<rect x="710" y="415" width="1" height="20" fill="#0000cc"/>
<rect x="706.5" y="418.5" width="9" height="16" fill="#fff" stroke="#0000cc" stroke-width="1"/>
<rect x="719" y="415" width="1" height="14" fill="#0000cc"/>
<rect x="715" y="417" width="10" height="7" fill="#0000cc"/>
<rect x="729" y="405" width="1" height="26" fill="#0000cc"/>
<rect x="725" y="423" width="10" height="7" fill="#0000cc"/>
<rect x="738" y="415" width="1" height="36" fill="#0000cc"/>
<rect x="734.5" y="426.5" width="9" height="3" fill="#fff" stroke="#0000cc" stroke-width="1"/>
<rect x="748" y="408" width="1" height="28" fill="#0000cc"/>
<rect x="744.5" y="408.5" width="9" height="17" fill="#fff" stroke="#0000cc" stroke-width="1"/>
<rect x="757" y="399" width="1" height="25" fill="#0000cc"/>
<rect x="753" y="408" width="10" height="1" fill="#0000cc"/>
<rect x="767" y="408" width="1" height="37" fill="#0000cc"/>
<rect x="763" y="408" width="10" height="17" fill="#0000cc"/>
<rect x="776" y="412" width="1" height="22" fill="#0000cc"/>
<rect x="772" y="425" width="10" height="4" fill="#0000cc"/>
<rect x="786" y="427" width="1" height="51" fill="#0000cc"/>
<rect x="782" y="428" width="10" height="19" fill="#0000cc"/>
<rect x="795" y="443" width="1" height="22" fill="#0000cc"/>
<rect x="791" y="447" width="10" height="12" fill="#0000cc"/>
<rect x="805" y="447" width="1" height="28" fill="#0000cc"/>
<rect x="801" y="458" width="10" height="1" fill="#0000cc"/>
<rect x="814" y="435" width="1" height="24" fill="#0000cc"/>
<rect x="810.5" y="441.5" width="9" height="17" fill="#fff" stroke="#0000cc" stroke-width="1"/>
<rect x="824" y="433" width="1" height="21" fill="#0000cc"/>
<rect x="820" y="441" width="10" height="7" fill="#0000cc"/>
<rect x="834" y="447" width="1" height="42" fill="#0000cc"/>
<rect x="830" y="447" width="10" height="40" fill="#0000cc"/>
<rect x="843" y="475" width="1" height="28" fill="#0000cc"/>
<rect x="839" y="486" width="10" height="1" fill="#0000cc"/>
<rect x="853" y="470" width="1" height="21" fill="#0000cc"/>
<rect x="849.5" y="480.5" width="9" height="5" fill="#fff" stroke="#0000cc" stroke-width="1"/>
<rect x="862" y="473" width="1" height="44" fill="#0000cc"/>
<rect x="858" y="480" width="10" height="22" fill="#0000cc"/>
<rect x="872" y="500" width="1" height="93" fill="#0000cc"/>
<rect x="868" y="501" width="10" height="48" fill="#0000cc"/>
<rect x="881" y="538" width="1" height="68" fill="#0000cc"/>
<rect x="877" y="548" width="10" height="16" fill="#0000cc"/>
<rect x="891" y="557" width="1" height="28" fill="#0000cc"/>
<rect x="887" y="563" width="10" height="2" fill="#0000cc"/>
<rect x="900" y="555" width="1" height="37" fill="#0000cc"/>
<rect x="896" y="564" width="10" height="25" fill="#0000cc"/>
<rect x="910" y="578" width="1" height="40" fill="#0000cc"/>
<rect x="906" y="588" width="10" height="29" fill="#0000cc"/>
<rect x="919" y="590" width="1" height="45" fill="#0000cc"/>
<rect x="915.5" y="600.5" width="9" height="17" fill="#fff" stroke="#0000cc" stroke-width="1"/>
<rect x="929" y="579" width="1" height="26" fill="#0000cc"/>
<rect x="925.5" y="584.5" width="9" height="16" fill="#fff" stroke="#0000cc" stroke-width="1"/>
<rect x="938" y="570" width="1" height="16" fill="#0000cc"/>
<rect x="934.5" y="573.5" width="9" height="10" fill="#fff" stroke="#0000cc" stroke-width="1"/>
<rect x="948" y="561" width="1" height="20" fill="#0000cc"/>
<rect x="944" y="573" width="10" height="1" fill="#0000cc"/>
<rect x="957" y="550" width="1" height="36" fill="#0000cc"/>
<rect x="953.5" y="552.5" width="9" height="21" fill="#fff" stroke="#0000cc" stroke-width="1"/>
<rect x="967" y="538" width="1" height="17" fill="#0000cc"/>
<rect x="963.5" y="543.5" width="9" height="8" fill="#fff" stroke="#0000cc" stroke-width="1"/>
<rect x="977" y="530" width="1" height="21" fill="#0000cc"/>
<rect x="973.5" y="537.5" width="9" height="6" fill="#fff" stroke="#0000cc" stroke-width="1"/>
<rect x="986" y="523" width="1" height="22" fill="#0000cc"/>
<rect x="982" y="536" width="10" height="1" fill="#0000cc"/>
<rect x="996" y="512" width="1" height="26" fill="#0000cc"/>
<rect x="992.5" y="518.5" width="9" height="18" fill="#fff" stroke="#0000cc" stroke-width="1"/>
<rect x="1005" y="509" width="1" height="12" fill="#0000cc"/>
<rect x="1001.5" y="515.5" width="9" height="2" fill="#fff" stroke="#0000cc" stroke-width="1"/>
<rect x="1015" y="505" width="1" height="22" fill="#0000cc"/>
<rect x="1011" y="514" width="10" height="12" fill="#0000cc"/>
<rect x="1024" y="514" width="1" height="19" fill="#0000cc"/>
<rect x="1020.5" y="518.5" width="9" height="7" fill="#fff" stroke="#0000cc" stroke-width="1"/>
<rect x="1034" y="498" width="1" height="20" fill="#0000cc"/>
<rect x="1030.5" y="501.5" width="9" height="16" fill="#fff" stroke="#0000cc" stroke-width="1"/>
<rect x="1043" y="489" width="1" height="13" fill="#0000cc"/>
<rect x="1039.5" y="496.5" width="9" height="5" fill="#fff" stroke="#0000cc" stroke-width="1"/>
<rect x="1053" y="491" width="1" height="44" fill="#0000cc"/>
<rect x="1049" y="496" width="10" height="28" fill="#0000cc"/>
<rect x="1062" y="509" width="1" height="27" fill="#0000cc"/>
<rect x="1058" y="524" width="10" height="11" fill="#0000cc"/>
<rect x="1072" y="533" width="1" height="7" fill="#0000cc"/>
<rect x="1068" y="534" width="10" height="4" fill="#0000cc"/>
<clipPath id="c2"><rect x="10" y="367" width="1148" height="346"/></clipPath><g clip-path="url(#c2)">
<polyline points="14.2,473.3 24.7,477.5 34.1,479.0 43.6,480.9 53.1,476.1 62.6,459.9 72.1,459.5 81.5,462.8 91.0,464.3 100.5,472.2 110.0,480.9 119.5,484.2 129.0,488.9 138.4,490.5 147.9,495.0 157.4,489.2 166.9,481.9 176.4,465.3 185.9,467.6 195.3,476.2 204.8,489.4 214.3,504.4 223.8,526.2 233.3,539.3 242.7,543.9 252.2,541.1 261.7,539.0 271.2,529.9 280.7,521.3 290.2,514.5 300.0,505.9 309.9,502.9 319.4,495.0 328.9,487.2 338.4,481.0 347.8,481.1 357.3,483.3 366.8,485.5 376.3,492.2 385.8,495.9 395.3,501.1 404.7,502.1 414.2,503.7 423.7,506.4 433.2,497.3 442.7,495.0 452.1,490.6 461.6,490.0 471.1,490.0 480.6,490.3 490.1,491.2 499.6,492.5 509.0,493.2 518.5,496.0 528.0,496.3 537.5,495.9 547.0,493.2 556.5,492.3 565.9,488.3 575.4,484.6 584.9,476.0 590.0,473.8 595.2,473.6 604.7,474.3 614.1,476.4 623.6,474.1 633.1,469.8 642.6,458.1 652.1,445.5 661.5,432.9 671.0,421.7 680.5,420.7 690.0,420.8 699.5,414.5 709.0,401.5 718.4,398.4 727.9,395.7 737.4,393.0 746.9,384.9 758.3,376.4 767.7,385.1 777.2,395.2 786.7,388.0 796.2,380.7 805.7,378.1 815.2,379.0 824.6,379.9 834.1,377.2 843.6,388.9 853.1,398.8 863.5,405.3 873.3,383.2 882.8,370.3 890.3,369.5 896.4,375.6 907.4,390.8 919.7,405.0 930.2,433.6 939.7,471.9 949.1,518.8 957.7,522.0 968.1,509.3 977.6,497.0 987.1,486.5 996.5,479.9 1006.0,476.5 1015.5,478.0 1025.0,478.6 1034.5,480.3 1044.9,475.5 1053.4,479.3 1062.9,479.5 1073.9,479.5" fill="none" stroke="#ff0000" stroke-width="1"/>
<polyline points="14.2,484.2 24.7,487.3 34.1,488.7 43.6,490.5 53.1,488.1 62.6,479.2 72.1,480.7 81.5,483.6 91.0,484.9 100.5,490.8 110.0,497.2 119.5,499.7 129.0,503.4 138.4,504.6 147.9,507.1 157.4,503.8 166.9,500.3 176.4,492.0 185.9,495.0 195.3,502.1 204.8,512.9 214.3,525.0 223.8,542.0 233.3,552.3 242.7,555.7 252.2,553.5 261.7,550.7 271.2,543.8 280.7,537.3 290.2,531.6 300.0,524.2 309.9,520.1 319.4,511.7 328.9,504.3 338.4,498.3 347.8,497.0 357.3,497.4 366.8,497.9 376.3,501.0 385.8,503.0 395.3,506.0 404.7,507.2 414.2,508.7 423.7,510.8 433.2,504.1 442.7,502.3 452.1,498.8 461.6,498.2 471.1,498.2 480.6,498.2 490.1,498.5 499.6,498.7 509.0,498.9 518.5,501.2 528.0,501.4 537.5,501.2 547.0,498.9 556.5,497.9 565.9,494.5 575.4,491.1 584.9,484.6 590.0,482.8 595.2,482.3 604.7,482.1 614.1,482.4 623.6,480.1 633.1,476.4 642.6,467.3 652.1,457.4 661.5,447.4 671.0,438.5 680.5,436.5 690.0,435.2 699.5,429.0 709.0,417.6 718.4,413.8 727.9,410.8 737.4,407.8 746.9,400.9 758.3,393.4 767.7,397.9 777.2,404.2 786.7,399.5 796.2,396.1 805.7,395.8 815.2,396.8 824.6,397.8 834.1,398.8 843.6,409.7 853.1,418.8 863.5,425.7 873.3,415.4 882.8,410.6 890.3,412.9 896.4,420.2 907.4,437.2 919.7,452.7 930.2,475.8 939.7,503.8 949.1,538.4 957.7,540.5 968.1,531.1 977.6,521.6 987.1,512.8 996.5,505.2 1006.0,500.1 1015.5,499.5 1025.0,497.7 1034.5,495.9 1044.9,490.6 1053.4,492.2 1062.9,492.2 1073.9,492.2" fill="none" stroke="#ff0000" stroke-width="1"/>
<polyline points="14.2,495.2 24.7,497.0 34.1,498.3 43.6,500.1 53.1,500.0 62.6,498.5 72.1,501.9 81.5,504.4 91.0,505.4 100.5,509.3 110.0,513.6 119.5,515.3 129.0,517.8 138.4,518.6 147.9,519.3 157.4,518.5 166.9,518.8 176.4,518.8 185.9,522.4 195.3,528.0 204.8,536.4 214.3,545.5 223.8,557.8 233.3,565.3 242.7,567.6 252.2,566.0 261.7,562.5 271.2,557.7 280.7,553.3 290.2,548.7 300.0,542.5 309.9,537.4 319.4,528.5 328.9,521.4 338.4,515.7 347.8,512.9 357.3,511.6 366.8,510.4 376.3,509.9 385.8,510.1 395.3,510.9 404.7,512.2 414.2,513.6 423.7,515.2 433.2,510.9 442.7,509.5 452.1,506.9 461.6,506.4 471.1,506.4 480.6,506.1 490.1,505.7 499.6,504.9 509.0,504.7 518.5,506.3 528.0,506.4 537.5,506.4 547.0,504.7 556.5,503.5 565.9,500.6 575.4,497.6 584.9,493.1 590.0,491.8 595.2,491.0 604.7,489.9 614.1,488.5 623.6,486.2 633.1,483.1 642.6,476.5 652.1,469.2 661.5,461.9 671.0,455.2 680.5,452.2 690.0,449.5 699.5,443.5 709.0,433.7 718.4,429.2 727.9,425.8 737.4,422.5 746.9,416.9 758.3,410.4 767.7,410.7 777.2,413.1 786.7,411.0 796.2,411.5 805.7,413.4 815.2,414.7 824.6,415.7 834.1,420.3 843.6,430.6 853.1,438.8 863.5,446.1 873.3,447.7 882.8,450.9 890.3,456.4 896.4,464.7 907.4,483.7 919.7,500.4 930.2,518.0 939.7,535.7 949.1,558.0 957.7,559.0 968.1,552.9 977.6,546.3 987.1,539.0 996.5,530.5 1006.0,523.6 1015.5,521.0 1025.0,516.7 1034.5,511.6 1044.9,505.6 1053.4,505.0 1062.9,504.8 1073.9,504.8" fill="none" stroke="#ff0000" stroke-width="1"/>
<polyline points="14.2,517.1 24.7,516.5 34.1,517.5 43.6,519.3 53.1,524.0 62.6,537.2 72.1,544.3 81.5,546.0 91.0,546.6 100.5,546.5 110.0,546.3 119.5,546.4 129.0,546.8 138.4,546.7 147.9,543.6 157.4,547.7 166.9,555.6 176.4,572.4 185.9,577.2 195.3,579.7 204.8,583.4 214.3,586.6 223.8,589.4 233.3,591.3 242.7,591.3 252.2,590.9 261.7,586.0 271.2,585.4 280.7,585.3 290.2,582.9 300.0,579.1 309.9,571.8 319.4,562.0 328.9,555.7 338.4,550.3 347.8,544.7 357.3,539.8 366.8,535.4 376.3,527.6 385.8,524.3 395.3,520.8 404.7,522.2 414.2,523.6 423.7,524.1 433.2,524.5 442.7,524.1 452.1,523.1 461.6,522.9 471.1,522.9 480.6,521.9 490.1,520.3 499.6,517.3 509.0,516.3 518.5,516.6 528.0,516.6 537.5,517.0 547.0,516.3 556.5,514.8 565.9,513.0 575.4,510.5 584.9,510.2 590.0,509.9 595.2,508.3 604.7,505.4 614.1,500.6 623.6,498.3 633.1,496.3 642.6,494.8 652.1,492.9 661.5,491.0 671.0,488.7 680.5,483.7 690.0,478.3 699.5,472.6 709.0,466.0 718.4,460.0 727.9,456.0 737.4,451.9 746.9,449.0 758.3,444.4 767.7,436.3 777.2,430.9 786.7,434.1 796.2,442.3 805.7,448.7 815.2,450.3 824.6,451.6 834.1,463.5 843.6,472.3 853.1,478.8 863.5,486.8 873.3,512.1 882.8,531.6 890.3,543.2 896.4,553.9 907.4,576.6 919.7,595.9 930.2,602.4 939.7,599.5 949.1,597.2 957.7,596.1 968.1,596.5 977.6,595.6 987.1,591.5 996.5,581.0 1006.0,570.8 1015.5,564.0 1025.0,554.9 1034.5,543.0 1044.9,535.7 1053.4,530.7 1062.9,530.1 1073.9,530.1" fill="none" stroke="#ff0000" stroke-width="1"/>
<polyline points="14.2,528.1 24.7,526.3 34.1,527.1 43.6,528.9 53.1,536.0 62.6,556.6 72.1,565.5 81.5,566.7 91.0,567.2 100.5,565.0 110.0,562.6 119.5,561.9 129.0,561.3 138.4,560.8 147.9,555.8 157.4,562.3 166.9,574.0 176.4,599.1 185.9,604.6 195.3,605.6 204.8,606.9 214.3,607.2 223.8,605.2 233.3,604.3 242.7,603.1 252.2,603.3 261.7,597.8 271.2,599.3 280.7,601.3 290.2,600.0 300.0,597.4 309.9,589.0 319.4,578.8 328.9,572.8 338.4,567.6 347.8,560.6 357.3,553.9 366.8,547.9 376.3,536.4 385.8,531.4 395.3,525.7 404.7,527.3 414.2,528.6 423.7,528.5 433.2,531.3 442.7,531.3 452.1,531.3 461.6,531.1 471.1,531.1 480.6,529.8 490.1,527.6 499.6,523.5 509.0,522.1 518.5,521.8 528.0,521.6 537.5,522.3 547.0,522.1 556.5,520.4 565.9,519.1 575.4,517.0 584.9,518.7 590.0,518.9 595.2,517.0 604.7,513.2 614.1,506.7 623.6,504.4 633.1,503.0 642.6,504.0 652.1,504.8 661.5,505.6 671.0,505.5 680.5,499.4 690.0,492.7 699.5,487.2 709.0,482.1 718.4,475.4 727.9,471.1 737.4,466.7 746.9,465.0 758.3,461.4 767.7,449.1 777.2,439.8 786.7,445.7 796.2,457.7 805.7,466.3 815.2,468.1 824.6,469.5 834.1,485.0 843.6,493.2 853.1,498.8 863.5,507.2 873.3,544.4 882.8,571.9 890.3,586.7 896.4,598.4 907.4,623.1 919.7,643.6 930.2,644.6 939.7,631.4 949.1,616.8 957.7,614.6 968.1,618.3 977.6,620.2 987.1,617.7 996.5,606.3 1006.0,594.4 1015.5,585.5 1025.0,574.0 1034.5,558.7 1044.9,550.8 1053.4,543.5 1062.9,542.7 1073.9,542.7" fill="none" stroke="#ff0000" stroke-width="1"/>
<polyline points="14.2,539.0 24.7,536.0 34.1,536.7 43.6,538.5 53.1,547.9 62.6,575.9 72.1,586.7 81.5,587.5 91.0,587.8 100.5,583.6 110.0,578.9 119.5,577.5 129.0,575.8 138.4,574.8 147.9,567.9 157.4,577.0 166.9,592.4 176.4,625.9 185.9,632.0 195.3,631.5 204.8,630.4 214.3,627.7 223.8,621.0 233.3,617.3 242.7,615.0 252.2,615.8 261.7,609.5 271.2,613.2 280.7,617.3 290.2,617.1 300.0,615.7 309.9,606.3 319.4,595.5 328.9,589.9 338.4,585.0 347.8,576.5 357.3,568.1 366.8,560.4 376.3,545.3 385.8,538.6 395.3,530.7 404.7,532.3 414.2,533.6 423.7,532.9 433.2,538.1 442.7,538.6 452.1,539.4 461.6,539.3 471.1,539.3 480.6,537.7 490.1,534.8 499.6,529.7 509.0,527.9 518.5,526.9 528.0,526.7 537.5,527.6 547.0,527.9 556.5,526.0 565.9,525.3 575.4,523.5 584.9,527.2 590.0,527.9 595.2,525.7 604.7,521.0 614.1,512.8 623.6,510.5 633.1,509.6 642.6,513.1 652.1,516.6 661.5,520.1 671.0,522.2 680.5,515.2 690.0,507.1 699.5,501.7 709.0,498.2 718.4,490.8 727.9,486.1 737.4,481.4 746.9,481.0 758.3,478.4 767.7,461.9 777.2,448.7 786.7,457.2 796.2,473.1 805.7,483.9 815.2,486.0 824.6,487.4 834.1,506.6 843.6,514.0 853.1,518.8 863.5,527.6 873.3,576.6 882.8,612.3 890.3,630.1 896.4,643.0 907.4,669.5 919.7,691.3 930.2,686.8 939.7,663.3 949.1,636.3 957.7,633.1 968.1,640.1 977.6,644.9 987.1,643.9 996.5,631.6 1006.0,618.0 1015.5,607.0 1025.0,593.1 1034.5,574.3 1044.9,565.8 1053.4,556.3 1062.9,555.4 1073.9,555.4" fill="none" stroke="#ff0000" stroke-width="1"/>
<polyline points="14.2,506.1 24.7,506.8 34.1,507.9 43.6,509.7 53.1,512.0 62.6,517.9 72.1,523.1 81.5,525.2 91.0,526.0 100.5,527.9 110.0,529.9 119.5,530.8 129.0,532.3 138.4,532.7 147.9,531.5 157.4,533.1 166.9,537.2 176.4,545.6 185.9,549.8 195.3,553.8 204.8,559.9 214.3,566.1 223.8,573.6 233.3,578.3 242.7,579.4 252.2,578.4 261.7,574.2 271.2,571.6 280.7,569.3 290.2,565.8 300.0,560.8 309.9,554.6 319.4,545.3 328.9,538.6 338.4,533.0 347.8,528.8 357.3,525.7 366.8,522.9 376.3,518.7 385.8,517.2 395.3,515.9 404.7,517.2 414.2,518.6 423.7,519.7 433.2,517.7 442.7,516.8 452.1,515.0 461.6,514.7 471.1,514.7 480.6,514.0 490.1,513.0 499.6,511.1 509.0,510.5 518.5,511.5 528.0,511.5 537.5,511.7 547.0,510.5 556.5,509.2 565.9,506.8 575.4,504.1 584.9,501.6 590.0,500.8 595.2,499.6 604.7,497.7 614.1,494.6 623.6,492.3 633.1,489.7 642.6,485.6 652.1,481.1 661.5,476.5 671.0,472.0 680.5,467.9 690.0,463.9 699.5,458.1 709.0,449.9 718.4,444.6 727.9,440.9 737.4,437.2 746.9,433.0 758.3,427.4 767.7,423.5 777.2,422.0 786.7,422.6 796.2,426.9 805.7,431.0 815.2,432.5 824.6,433.6 834.1,441.9 843.6,451.4 853.1,458.8 863.5,466.5 873.3,479.9 882.8,491.3 890.3,499.8 896.4,509.3 907.4,530.1 919.7,548.2 930.2,560.2 939.7,567.6 949.1,577.6 957.7,577.6 968.1,574.7 977.6,570.9 987.1,565.2 996.5,555.7 1006.0,547.2 1015.5,542.5 1025.0,535.8 1034.5,527.3 1044.9,520.7 1053.4,517.8 1062.9,517.4 1073.9,517.4" fill="none" stroke="#444444" stroke-width="1"/>
</g>
<rect x="758" y="367" width="1" height="347" fill="#9c9ce0"/>
<rect x="10.5" y="674.5" width="9" height="39" fill="#99ccff" stroke="#0000cc" stroke-width="1"/>
<rect x="19.5" y="675.5" width="10" height="38" fill="#99ccff" stroke="#0000cc" stroke-width="1"/>
<rect x="29.5" y="675.5" width="9" height="38" fill="#99ccff" stroke="#0000cc" stroke-width="1"/>
<rect x="38.5" y="676.5" width="10" height="37" fill="#99ccff" stroke="#0000cc" stroke-width="1"/>
<rect x="48.5" y="678.5" width="9" height="35" fill="#99ccff" stroke="#0000cc" stroke-width="1"/>
<rect x="57.5" y="674.5" width="10" height="39" fill="#99ccff" stroke="#0000cc" stroke-width="1"/>
<rect x="67.5" y="667.5" width="9" height="46" fill="#99ccff" stroke="#0000cc" stroke-width="1"/>
<rect x="76.5" y="672.5" width="10" height="41" fill="#99ccff" stroke="#0000cc" stroke-width="1"/>
<rect x="86.5" y="675.5" width="9" height="38" fill="#99ccff" stroke="#0000cc" stroke-width="1"/>
<rect x="95.5" y="667.5" width="10" height="46" fill="#99ccff" stroke="#0000cc" stroke-width="1"/>
<rect x="105.5" y="673.5" width="9" height="40" fill="#99ccff" stroke="#0000cc" stroke-width="1"/>
<rect x="114.5" y="672.5" width="10" height="41" fill="#99ccff" stroke="#0000cc" stroke-width="1"/>
<rect x="124.5" y="669.5" width="9" height="44" fill="#99ccff" stroke="#0000cc" stroke-width="1"/>
<rect x="133.5" y="671.5" width="10" height="42" fill="#99ccff" stroke="#0000cc" stroke-width="1"/>
<rect x="143.5" y="665.5" width="10" height="48" fill="#99ccff" stroke="#0000cc" stroke-width="1"/>
<rect x="153.5" y="649.5" width="9" height="64" fill="#99ccff" stroke="#0000cc" stroke-width="1"/>
<rect x="162.5" y="668.5" width="10" height="45" fill="#99ccff" stroke="#0000cc" stroke-width="1"/>
<rect x="172.5" y="670.5" width="9" height="43" fill="#99ccff" stroke="#0000cc" stroke-width="1"/>
<rect x="181.5" y="655.5" width="10" height="58" fill="#99ccff" stroke="#0000cc" stroke-width="1"/>
<rect x="191.5" y="672.5" width="9" height="41" fill="#99ccff" stroke="#0000cc" stroke-width="1"/>
<rect x="200.5" y="674.5" width="10" height="39" fill="#99ccff" stroke="#0000cc" stroke-width="1"/>
<rect x="210.5" y="666.5" width="9" height="47" fill="#99ccff" stroke="#0000cc" stroke-width="1"/>
<rect x="219.5" y="674.5" width="10" height="39" fill="#99ccff" stroke="#0000cc" stroke-width="1"/>
<rect x="229.5" y="667.5" width="9" height="46" fill="#99ccff" stroke="#0000cc" stroke-width="1"/>
<rect x="238.5" y="668.5" width="10" height="45" fill="#99ccff" stroke="#0000cc" stroke-width="1"/>
<rect x="248.5" y="665.5" width="9" height="48" fill="#99ccff" stroke="#0000cc" stroke-width="1"/>
<rect x="257.5" y="664.5" width="10" height="49" fill="#99ccff" stroke="#0000cc" stroke-width="1"/>
<rect x="267.5" y="665.5" width="9" height="48" fill="#99ccff" stroke="#0000cc" stroke-width="1"/>
<rect x="276.5" y="674.5" width="10" height="39" fill="#99ccff" stroke="#0000cc" stroke-width="1"/>
<rect x="286.5" y="667.5" width="10" height="46" fill="#99ccff" stroke="#0000cc" stroke-width="1"/>
<rect x="296.5" y="663.5" width="9" height="50" fill="#99ccff" stroke="#0000cc" stroke-width="1"/>
<rect x="305.5" y="676.5" width="10" height="37" fill="#99ccff" stroke="#0000cc" stroke-width="1"/>
<rect x="315.5" y="670.5" width="9" height="43" fill="#99ccff" stroke="#0000cc" stroke-width="1"/>
<rect x="324.5" y="662.5" width="10" height="51" fill="#99ccff" stroke="#0000cc" stroke-width="1"/>
<rect x="334.5" y="669.5" width="9" height="44" fill="#99ccff" stroke="#0000cc" stroke-width="1"/>
<rect x="343.5" y="661.5" width="10" height="52" fill="#99ccff" stroke="#0000cc" stroke-width="1"/>
<rect x="353.5" y="663.5" width="9" height="50" fill="#99ccff" stroke="#0000cc" stroke-width="1"/>
<rect x="362.5" y="667.5" width="10" height="46" fill="#99ccff" stroke="#0000cc" stroke-width="1"/>
<rect x="372.5" y="669.5" width="9" height="44" fill="#99ccff" stroke="#0000cc" stroke-width="1"/>
<rect x="381.5" y="667.5" width="10" height="46" fill="#99ccff" stroke="#0000cc" stroke-width="1"/>
<rect x="391.5" y="671.5" width="9" height="42" fill="#99ccff" stroke="#0000cc" stroke-width="1"/>
<rect x="400.5" y="671.5" width="10" height="42" fill="#99ccff" stroke="#0000cc" stroke-width="1"/>
<rect x="410.5" y="664.5" width="10" height="49" fill="#99ccff" stroke="#0000cc" stroke-width="1"/>
<rect x="420.5" y="665.5" width="9" height="48" fill="#99ccff" stroke="#0000cc" stroke-width="1"/>
<rect x="429.5" y="665.5" width="10" height="48" fill="#99ccff" stroke="#0000cc" stroke-width="1"/>
<rect x="439.5" y="663.5" width="9" height="50" fill="#99ccff" stroke="#0000cc" stroke-width="1"/>
<rect x="448.5" y="667.5" width="10" height="46" fill="#99ccff" stroke="#0000cc" stroke-width="1"/>
<rect x="458.5" y="657.5" width="9" height="56" fill="#99ccff" stroke="#0000cc" stroke-width="1"/>
<rect x="467.5" y="658.5" width="10" height="55" fill="#99ccff" stroke="#0000cc" stroke-width="1"/>
<rect x="477.5" y="664.5" width="9" height="49" fill="#99ccff" stroke="#0000cc" stroke-width="1"/>
<rect x="486.5" y="664.5" width="10" height="49" fill="#99ccff" stroke="#0000cc" stroke-width="1"/>
<rect x="496.5" y="667.5" width="9" height="46" fill="#99ccff" stroke="#0000cc" stroke-width="1"/>
<rect x="505.5" y="662.5" width="10" height="51" fill="#99ccff" stroke="#0000cc" stroke-width="1"/>
<rect x="515.5" y="660.5" width="9" height="53" fill="#99ccff" stroke="#0000cc" stroke-width="1"/>
<rect x="524.5" y="654.5" width="10" height="59" fill="#99ccff" stroke="#0000cc" stroke-width="1"/>
<rect x="534.5" y="661.5" width="9" height="52" fill="#99ccff" stroke="#0000cc" stroke-width="1"/>
<rect x="543.5" y="664.5" width="10" height="49" fill="#99ccff" stroke="#0000cc" stroke-width="1"/>
<rect x="553.5" y="656.5" width="10" height="57" fill="#99ccff" stroke="#0000cc" stroke-width="1"/>
<rect x="563.5" y="663.5" width="9" height="50" fill="#99ccff" stroke="#0000cc" stroke-width="1"/>
<rect x="572.5" y="655.5" width="10" height="58" fill="#99ccff" stroke="#0000cc" stroke-width="1"/>
<rect x="582.5" y="665.5" width="9" height="48" fill="#99ccff" stroke="#0000cc" stroke-width="1"/>
<rect x="591.5" y="651.5" width="10" height="62" fill="#99ccff" stroke="#0000cc" stroke-width="1"/>
<rect x="601.5" y="651.5" width="9" height="62" fill="#99ccff" stroke="#0000cc" stroke-width="1"/>
<rect x="610.5" y="663.5" width="10" height="50" fill="#99ccff" stroke="#0000cc" stroke-width="1"/>
<rect x="620.5" y="662.5" width="9" height="51" fill="#99ccff" stroke="#0000cc" stroke-width="1"/>
<rect x="629.5" y="664.5" width="10" height="49" fill="#99ccff" stroke="#0000cc" stroke-width="1"/>
<rect x="639.5" y="658.5" width="9" height="55" fill="#99ccff" stroke="#0000cc" stroke-width="1"/>
<rect x="648.5" y="661.5" width="10" height="52" fill="#99ccff" stroke="#0000cc" stroke-width="1"/>
<rect x="658.5" y="670.5" width="9" height="43" fill="#99ccff" stroke="#0000cc" stroke-width="1"/>
<rect x="667.5" y="662.5" width="10" height="51" fill="#99ccff" stroke="#0000cc" stroke-width="1"/>
<rect x="677.5" y="666.5" width="9" height="47" fill="#99ccff" stroke="#0000cc" stroke-width="1"/>
<rect x="686.5" y="655.5" width="10" height="58" fill="#99ccff" stroke="#0000cc" stroke-width="1"/>
<rect x="696.5" y="665.5" width="10" height="48" fill="#99ccff" stroke="#0000cc" stroke-width="1"/>
<rect x="706.5" y="659.5" width="9" height="54" fill="#99ccff" stroke="#0000cc" stroke-width="1"/>
<rect x="715.5" y="659.5" width="10" height="54" fill="#99ccff" stroke="#0000cc" stroke-width="1"/>
<rect x="725.5" y="658.5" width="9" height="55" fill="#99ccff" stroke="#0000cc" stroke-width="1"/>
<rect x="734.5" y="644.5" width="10" height="69" fill="#99ccff" stroke="#0000cc" stroke-width="1"/>
<rect x="744.5" y="672.5" width="9" height="41" fill="#99ccff" stroke="#0000cc" stroke-width="1"/>
<rect x="753.5" y="665.5" width="10" height="48" fill="#99ccff" stroke="#0000cc" stroke-width="1"/>
<rect x="763.5" y="659.5" width="9" height="54" fill="#99ccff" stroke="#0000cc" stroke-width="1"/>
<rect x="772.5" y="672.5" width="10" height="41" fill="#99ccff" stroke="#0000cc" stroke-width="1"/>
<rect x="782.5" y="649.5" width="9" height="64" fill="#99ccff" stroke="#0000cc" stroke-width="1"/>
<rect x="791.5" y="665.5" width="10" height="48" fill="#99ccff" stroke="#0000cc" stroke-width="1"/>
<rect x="801.5" y="658.5" width="9" height="55" fill="#99ccff" stroke="#0000cc" stroke-width="1"/>
<rect x="810.5" y="668.5" width="10" height="45" fill="#99ccff" stroke="#0000cc" stroke-width="1"/>
<rect x="820.5" y="673.5" width="10" height="40" fill="#99ccff" stroke="#0000cc" stroke-width="1"/>
<rect x="830.5" y="667.5" width="9" height="46" fill="#99ccff" stroke="#0000cc" stroke-width="1"/>
<rect x="839.5" y="660.5" width="10" height="53" fill="#99ccff" stroke="#0000cc" stroke-width="1"/>
<rect x="849.5" y="677.5" width="9" height="36" fill="#99ccff" stroke="#0000cc" stroke-width="1"/>
<rect x="858.5" y="660.5" width="10" height="53" fill="#99ccff" stroke="#0000cc" stroke-width="1"/>
<rect x="868.5" y="652.5" width="9" height="61" fill="#99ccff" stroke="#0000cc" stroke-width="1"/>
<rect x="877.5" y="668.5" width="10" height="45" fill="#99ccff" stroke="#0000cc" stroke-width="1"/>
<rect x="887.5" y="667.5" width="9" height="46" fill="#99ccff" stroke="#0000cc" stroke-width="1"/>
<rect x="896.5" y="669.5" width="10" height="44" fill="#99ccff" stroke="#0000cc" stroke-width="1"/>
<rect x="906.5" y="666.5" width="9" height="47" fill="#99ccff" stroke="#0000cc" stroke-width="1"/>
<rect x="915.5" y="650.5" width="10" height="63" fill="#99ccff" stroke="#0000cc" stroke-width="1"/>
<rect x="925.5" y="660.5" width="9" height="53" fill="#99ccff" stroke="#0000cc" stroke-width="1"/>
<rect x="934.5" y="664.5" width="10" height="49" fill="#99ccff" stroke="#0000cc" stroke-width="1"/>
<rect x="944.5" y="668.5" width="9" height="45" fill="#99ccff" stroke="#0000cc" stroke-width="1"/>
<rect x="953.5" y="673.5" width="10" height="40" fill="#99ccff" stroke="#0000cc" stroke-width="1"/>
<rect x="963.5" y="673.5" width="10" height="40" fill="#99ccff" stroke="#0000cc" stroke-width="1"/>
<rect x="973.5" y="668.5" width="9" height="45" fill="#99ccff" stroke="#0000cc" stroke-width="1"/>
<rect x="982.5" y="668.5" width="10" height="45" fill="#99ccff" stroke="#0000cc" stroke-width="1"/>
<rect x="992.5" y="680.5" width="9" height="33" fill="#99ccff" stroke="#0000cc" stroke-width="1"/>
<rect x="1001.5" y="675.5" width="10" height="38" fill="#99ccff" stroke="#0000cc" stroke-width="1"/>
<rect x="1011.5" y="678.5" width="9" height="35" fill="#99ccff" stroke="#0000cc" stroke-width="1"/>
<rect x="1020.5" y="679.5" width="10" height="34" fill="#99ccff" stroke="#0000cc" stroke-width="1"/>
<rect x="1030.5" y="675.5" width="9" height="38" fill="#99ccff" stroke="#0000cc" stroke-width="1"/>
<rect x="1039.5" y="673.5" width="10" height="40" fill="#99ccff" stroke="#0000cc" stroke-width="1"/>
<rect x="1049.5" y="664.5" width="9" height="49" fill="#99ccff" stroke="#0000cc" stroke-width="1"/>
<rect x="1058.5" y="665.5" width="10" height="48" fill="#99ccff" stroke="#0000cc" stroke-width="1"/>
<rect x="1068.5" y="709.5" width="9" height="4" fill="#99ccff" stroke="#0000cc" stroke-width="1"/>
<rect x="10" y="366" width="1149" height="1" fill="#000"/>
<rect x="1158" y="366" width="1" height="349" fill="#000"/>
<rect x="10" y="714" width="1149" height="1" fill="#000"/>
<rect x="1158" y="405" width="1" height="1" fill="#c0c0c0"/>
<rect x="1158" y="466" width="1" height="1" fill="#c0c0c0"/>
<rect x="1158" y="527" width="1" height="1" fill="#c0c0c0"/>
<rect x="1158" y="588" width="1" height="1" fill="#c0c0c0"/>
<rect x="1158" y="650" width="1" height="1" fill="#c0c0c0"/>
<rect x="1158" y="682" width="1" height="1" fill="#c0c0c0"/>
<text x="97" y="377.8" textLength="15.8" lengthAdjust="spacingAndGlyphs">2/1</text>
<text x="212" y="377.8" textLength="15.8" lengthAdjust="spacingAndGlyphs">3/1</text>
<text x="326" y="377.8" textLength="15.8" lengthAdjust="spacingAndGlyphs">4/1</text>
<text x="441" y="377.8" textLength="15.8" lengthAdjust="spacingAndGlyphs">5/1</text>
<text x="555" y="377.8" textLength="15.8" lengthAdjust="spacingAndGlyphs">6/1</text>
<text x="669" y="377.8" textLength="15.8" lengthAdjust="spacingAndGlyphs">7/1</text>
<text x="784" y="377.8" textLength="15.8" lengthAdjust="spacingAndGlyphs">8/1</text>
<text x="898" y="377.8" textLength="15.8" lengthAdjust="spacingAndGlyphs">9/1</text>
<text x="1013" y="377.8" textLength="21.3" lengthAdjust="spacingAndGlyphs">10/1</text>
<text x="1155.3" y="405.1" text-anchor="end" textLength="27.9" lengthAdjust="spacingAndGlyphs">14000</text>
<text x="1155.3" y="466.1" text-anchor="end" textLength="27.9" lengthAdjust="spacingAndGlyphs">12000</text>
<text x="1155.3" y="527.1" text-anchor="end" textLength="27.9" lengthAdjust="spacingAndGlyphs">10000</text>
<text x="1155.3" y="588.1" text-anchor="end" textLength="22.3" lengthAdjust="spacingAndGlyphs">8000</text>
<text x="1155.3" y="650.1" text-anchor="end" textLength="28.1" lengthAdjust="spacingAndGlyphs">400万</text>
<text x="1155.3" y="682.1" text-anchor="end" textLength="28.1" lengthAdjust="spacingAndGlyphs">200万</text>
<text x="1155.3" y="713" text-anchor="end" textLength="5.6" lengthAdjust="spacingAndGlyphs">0</text>
<rect x="10" y="715" width="16" height="3" fill="#e4e4e4"/>
<rect x="26" y="715" width="1116" height="3" fill="#c8c8c8"/>
<rect x="1142" y="715" width="17" height="3" fill="#e4e4e4"/>
<rect x="1051" y="715" width="17" height="3" fill="#fff"/>
<rect x="1052" y="715" width="15" height="1" fill="#a8a8a8"/>
<rect x="1052" y="715" width="1" height="3" fill="#a8a8a8"/>
<rect x="1066" y="715" width="1" height="3" fill="#a8a8a8"/>
<rect x="1053" y="716" width="13" height="2" fill="#f4f4f4"/>
<rect x="1163" y="367" width="1" height="351" fill="#d0d0d0"/>
</g>
<g id="p3">
<rect x="39" y="721" width="1" height="347" fill="#c0c0c0"/>
<rect x="147" y="721" width="1" height="347" fill="#c0c0c0"/>
<rect x="256" y="721" width="1" height="347" fill="#c0c0c0"/>
<rect x="364" y="721" width="1" height="347" fill="#c0c0c0"/>
<rect x="473" y="721" width="1" height="347" fill="#c0c0c0"/>
<rect x="582" y="721" width="1" height="347" fill="#c0c0c0"/>
<rect x="690" y="721" width="1" height="347" fill="#c0c0c0"/>
<rect x="799" y="721" width="1" height="347" fill="#c0c0c0"/>
<rect x="908" y="721" width="1" height="347" fill="#c0c0c0"/>
<rect x="1016" y="721" width="1" height="347" fill="#c0c0c0"/>
<rect x="12" y="752" width="1149" height="1" fill="#c0c0c0"/>
<rect x="12" y="786" width="1149" height="1" fill="#c0c0c0"/>
<rect x="12" y="820" width="1149" height="1" fill="#c0c0c0"/>
<rect x="12" y="854" width="1149" height="1" fill="#c0c0c0"/>
<rect x="12" y="885" width="1149" height="1" fill="#c0c0c0"/>
<rect x="12" y="914" width="1149" height="1" fill="#c0c0c0"/>
<rect x="12" y="942" width="1149" height="1" fill="#c0c0c0"/>
<rect x="12" y="953" width="1149" height="1" fill="#c0c0c0"/>
<rect x="12" y="985" width="1149" height="1" fill="#c0c0c0"/>
<rect x="12" y="1015" width="1149" height="1" fill="#c0c0c0"/>
<rect x="12" y="1028" width="1149" height="1" fill="#c0c0c0"/>
<rect x="12" y="1041" width="1149" height="1" fill="#c0c0c0"/>
<rect x="12" y="1054" width="1149" height="1" fill="#c0c0c0"/>
<rect x="12" y="959" width="1148" height="1" fill="#9c9ce0"/>
<clipPath id="c3"><rect x="12" y="721" width="1148" height="221"/></clipPath><g clip-path="url(#c3)">
<polygon points="704.2,824.8 713.6,824.8 713.6,832.1 704.2,832.1" fill="#c0c0c0"/>
<polygon points="713.3,824.8 722.6,824.8 722.6,832.1 713.3,832.1" fill="#c0c0c0"/>
<polygon points="722.3,824.8 731.7,823.8 731.7,832.1 722.3,832.1" fill="#c0c0c0"/>
<polygon points="731.4,823.8 740.7,823.8 740.7,832.1 731.4,832.1" fill="#c0c0c0"/>
<polygon points="740.4,823.8 749.8,821.4 749.8,832.1 740.4,832.1" fill="#c0c0c0"/>
<polygon points="749.5,821.4 758.8,819.9 758.8,832.1 749.5,832.1" fill="#c0c0c0"/>
<polygon points="758.5,819.9 767.9,816.4 767.9,832.1 758.5,832.1" fill="#c0c0c0"/>
<polygon points="767.6,816.4 776.9,816.3 776.9,832.1 767.6,832.1" fill="#c0c0c0"/>
<polygon points="776.6,816.3 786.0,815.8 786.0,833.5 776.6,832.1" fill="#c0c0c0"/>
<polygon points="785.7,815.8 795.0,814.7 795.0,835.1 785.7,833.5" fill="#c0c0c0"/>
<polygon points="794.7,814.7 804.0,814.5 804.0,835.1 794.7,835.1" fill="#c0c0c0"/>
<polygon points="803.7,814.5 813.1,813.5 813.1,835.1 803.7,835.1" fill="#c0c0c0"/>
<polygon points="812.8,813.5 822.1,812.0 822.1,834.6 812.8,835.1" fill="#c0c0c0"/>
<polygon points="821.8,812.0 831.2,810.7 831.2,833.8 821.8,834.6" fill="#c0c0c0"/>
<polygon points="830.9,810.7 840.2,809.0 840.2,832.1 830.9,833.8" fill="#c0c0c0"/>
<polygon points="839.9,809.0 849.3,808.5 849.3,831.6 839.9,832.1" fill="#c0c0c0"/>
<polygon points="849.0,808.5 858.3,806.2 858.3,829.3 849.0,831.6" fill="#c0c0c0"/>
<polygon points="858.0,806.2 867.4,806.2 867.4,829.3 858.0,829.3" fill="#c0c0c0"/>
<polygon points="867.1,806.2 876.4,805.3 876.4,829.3 867.1,829.3" fill="#c0c0c0"/>
<polygon points="876.1,805.3 885.5,804.2 885.5,829.3 876.1,829.3" fill="#c0c0c0"/>
<polygon points="885.2,804.2 894.5,803.7 894.5,828.8 885.2,829.3" fill="#c0c0c0"/>
<polygon points="894.2,803.7 903.6,799.9 903.6,825.1 894.2,828.8" fill="#c0c0c0"/>
<polygon points="903.3,799.9 912.6,798.3 912.6,823.5 903.3,825.1" fill="#c0c0c0"/>
<polygon points="912.3,798.3 921.7,795.6 921.7,822.1 912.3,823.5" fill="#c0c0c0"/>
<polygon points="921.4,795.6 930.7,794.5 930.7,821.0 921.4,822.1" fill="#c0c0c0"/>
<polygon points="930.4,794.5 939.8,793.4 939.8,818.2 930.4,821.0" fill="#c0c0c0"/>
<polygon points="939.5,793.4 948.8,793.3 948.8,818.2 939.5,818.2" fill="#c0c0c0"/>
<polygon points="948.5,793.3 957.9,788.8 957.9,815.2 948.5,818.2" fill="#c0c0c0"/>
<polygon points="957.6,788.8 966.9,783.2 966.9,810.7 957.6,815.2" fill="#c0c0c0"/>
<polygon points="966.6,783.2 976.0,781.5 976.0,810.7 966.6,810.7" fill="#c0c0c0"/>
<polygon points="975.7,781.5 985.0,777.1 985.0,803.2 975.7,810.7" fill="#c0c0c0"/>
<polygon points="984.7,777.1 994.1,777.1 994.1,800.2 984.7,803.2" fill="#c0c0c0"/>
<polygon points="993.8,777.1 1003.1,777.1 1003.1,795.7 993.8,800.2" fill="#c0c0c0"/>
<polygon points="1002.8,777.1 1012.1,775.4 1012.1,793.8 1002.8,795.7" fill="#c0c0c0"/>
<polygon points="1011.9,775.4 1021.2,775.4 1021.2,793.0 1011.9,793.8" fill="#c0c0c0"/>
<polygon points="1020.9,775.4 1030.2,772.8 1030.2,790.8 1020.9,793.0" fill="#c0c0c0"/>
<polygon points="1029.9,772.8 1039.3,774.6 1039.3,790.4 1029.9,790.8" fill="#c0c0c0"/>
<polygon points="1039.0,774.6 1048.3,774.6 1048.3,787.9 1039.0,790.4" fill="#c0c0c0"/>
<polygon points="1048.0,774.6 1057.4,774.5 1057.4,786.9 1048.0,787.9" fill="#c0c0c0"/>
<polygon points="1057.1,774.5 1066.4,774.5 1066.4,786.9 1057.1,786.9" fill="#c0c0c0"/>
<polygon points="1066.1,774.5 1075.5,774.5 1075.5,786.9 1066.1,786.9" fill="#c0c0c0"/>
<polygon points="1075.2,774.5 1084.5,776.1 1084.5,786.9 1075.2,786.9" fill="#c0c0c0"/>
<polygon points="1084.2,776.1 1093.6,779.2 1093.6,786.9 1084.2,786.9" fill="#c0c0c0"/>
<polygon points="1093.3,779.2 1102.6,779.7 1102.6,786.9 1093.3,786.9" fill="#c0c0c0"/>
<polygon points="1102.3,779.7 1111.7,785.1 1111.7,786.9 1102.3,786.9" fill="#c0c0c0"/>
<polygon points="1111.4,785.1 1120.7,807.0 1120.7,802.4 1111.4,786.9" fill="#808080"/>
<polygon points="1120.4,807.0 1129.8,810.7 1129.8,806.0 1120.4,802.4" fill="#808080"/>
<polygon points="1129.5,810.7 1138.8,810.7 1138.8,806.0 1129.5,806.0" fill="#808080"/>
<polygon points="1138.5,810.7 1147.9,810.7 1147.9,806.0 1138.5,806.0" fill="#808080"/>
<polygon points="1147.6,810.7 1156.9,815.9 1156.9,809.3 1147.6,806.0" fill="#808080"/>
<polygon points="1156.6,815.9 1166.0,823.9 1166.0,814.1 1156.6,809.3" fill="#808080"/>
<polygon points="1165.7,823.9 1175.0,823.9 1175.0,814.1 1165.7,814.1" fill="#808080"/>
<polygon points="1174.7,823.9 1184.1,824.3 1184.1,814.1 1174.7,814.1" fill="#808080"/>
<polygon points="1183.8,824.3 1193.1,828.1 1193.1,814.1 1183.8,814.1" fill="#808080"/>
<polygon points="1192.8,828.1 1202.2,833.3 1202.2,814.1 1192.8,814.1" fill="#808080"/>
<polygon points="1201.9,833.3 1211.2,833.3 1211.2,814.1 1201.9,814.1" fill="#808080"/>
<polygon points="1210.9,833.3 1220.3,832.2 1220.3,814.1 1210.9,814.1" fill="#808080"/>
<polygon points="1220.0,832.2 1229.3,831.3 1229.3,814.1 1220.0,814.1" fill="#808080"/>
<polygon points="1229.0,831.3 1238.3,829.7 1238.3,814.1 1229.0,814.1" fill="#808080"/>
<polygon points="1238.0,829.7 1247.4,826.4 1247.4,814.1 1238.0,814.1" fill="#808080"/>
<polygon points="1247.1,826.4 1256.4,823.7 1256.4,814.1 1247.1,814.1" fill="#808080"/>
<polygon points="1256.1,823.7 1265.5,825.8 1265.5,814.1 1256.1,814.1" fill="#808080"/>
<polygon points="1265.2,825.8 1274.5,825.6 1274.5,814.1 1265.2,814.1" fill="#808080"/>
<polygon points="1274.2,825.6 1283.6,820.1 1283.6,814.1 1274.2,814.1" fill="#808080"/>
<polygon points="1283.3,820.1 1292.6,819.5 1292.6,814.1 1283.3,814.1" fill="#808080"/>
<polygon points="1292.3,819.5 1301.7,818.7 1301.7,814.1 1292.3,814.1" fill="#808080"/>
<polygon points="1301.4,818.7 1310.7,819.9 1310.7,814.1 1301.4,814.1" fill="#808080"/>
</g>
<clipPath id="cc3"><polygon points="704.2,824.8 713.6,824.8 713.6,832.1 704.2,832.1"/><polygon points="713.3,824.8 722.6,824.8 722.6,832.1 713.3,832.1"/><polygon points="722.3,824.8 731.7,823.8 731.7,832.1 722.3,832.1"/><polygon points="731.4,823.8 740.7,823.8 740.7,832.1 731.4,832.1"/><polygon points="740.4,823.8 749.8,821.4 749.8,832.1 740.4,832.1"/><polygon points="749.5,821.4 758.8,819.9 758.8,832.1 749.5,832.1"/><polygon points="758.5,819.9 767.9,816.4 767.9,832.1 758.5,832.1"/><polygon points="767.6,816.4 776.9,816.3 776.9,832.1 767.6,832.1"/><polygon points="776.6,816.3 786.0,815.8 786.0,833.5 776.6,832.1"/><polygon points="785.7,815.8 795.0,814.7 795.0,835.1 785.7,833.5"/><polygon points="794.7,814.7 804.0,814.5 804.0,835.1 794.7,835.1"/><polygon points="803.7,814.5 813.1,813.5 813.1,835.1 803.7,835.1"/><polygon points="812.8,813.5 822.1,812.0 822.1,834.6 812.8,835.1"/><polygon points="821.8,812.0 831.2,810.7 831.2,833.8 821.8,834.6"/><polygon points="830.9,810.7 840.2,809.0 840.2,832.1 830.9,833.8"/><polygon points="839.9,809.0 849.3,808.5 849.3,831.6 839.9,832.1"/><polygon points="849.0,808.5 858.3,806.2 858.3,829.3 849.0,831.6"/><polygon points="858.0,806.2 867.4,806.2 867.4,829.3 858.0,829.3"/><polygon points="867.1,806.2 876.4,805.3 876.4,829.3 867.1,829.3"/><polygon points="876.1,805.3 885.5,804.2 885.5,829.3 876.1,829.3"/><polygon points="885.2,804.2 894.5,803.7 894.5,828.8 885.2,829.3"/><polygon points="894.2,803.7 903.6,799.9 903.6,825.1 894.2,828.8"/><polygon points="903.3,799.9 912.6,798.3 912.6,823.5 903.3,825.1"/><polygon points="912.3,798.3 921.7,795.6 921.7,822.1 912.3,823.5"/><polygon points="921.4,795.6 930.7,794.5 930.7,821.0 921.4,822.1"/><polygon points="930.4,794.5 939.8,793.4 939.8,818.2 930.4,821.0"/><polygon points="939.5,793.4 948.8,793.3 948.8,818.2 939.5,818.2"/><polygon points="948.5,793.3 957.9,788.8 957.9,815.2 948.5,818.2"/><polygon points="957.6,788.8 966.9,783.2 966.9,810.7 957.6,815.2"/><polygon points="966.6,783.2 976.0,781.5 976.0,810.7 966.6,810.7"/><polygon points="975.7,781.5 985.0,777.1 985.0,803.2 975.7,810.7"/><polygon points="984.7,777.1 994.1,777.1 994.1,800.2 984.7,803.2"/><polygon points="993.8,777.1 1003.1,777.1 1003.1,795.7 993.8,800.2"/><polygon points="1002.8,777.1 1012.1,775.4 1012.1,793.8 1002.8,795.7"/><polygon points="1011.9,775.4 1021.2,775.4 1021.2,793.0 1011.9,793.8"/><polygon points="1020.9,775.4 1030.2,772.8 1030.2,790.8 1020.9,793.0"/><polygon points="1029.9,772.8 1039.3,774.6 1039.3,790.4 1029.9,790.8"/><polygon points="1039.0,774.6 1048.3,774.6 1048.3,787.9 1039.0,790.4"/><polygon points="1048.0,774.6 1057.4,774.5 1057.4,786.9 1048.0,787.9"/><polygon points="1057.1,774.5 1066.4,774.5 1066.4,786.9 1057.1,786.9"/><polygon points="1066.1,774.5 1075.5,774.5 1075.5,786.9 1066.1,786.9"/><polygon points="1075.2,774.5 1084.5,776.1 1084.5,786.9 1075.2,786.9"/><polygon points="1084.2,776.1 1093.6,779.2 1093.6,786.9 1084.2,786.9"/><polygon points="1093.3,779.2 1102.6,779.7 1102.6,786.9 1093.3,786.9"/><polygon points="1102.3,779.7 1111.7,785.1 1111.7,786.9 1102.3,786.9"/><polygon points="1111.4,785.1 1120.7,807.0 1120.7,802.4 1111.4,786.9"/><polygon points="1120.4,807.0 1129.8,810.7 1129.8,806.0 1120.4,802.4"/><polygon points="1129.5,810.7 1138.8,810.7 1138.8,806.0 1129.5,806.0"/><polygon points="1138.5,810.7 1147.9,810.7 1147.9,806.0 1138.5,806.0"/><polygon points="1147.6,810.7 1156.9,815.9 1156.9,809.3 1147.6,806.0"/><polygon points="1156.6,815.9 1166.0,823.9 1166.0,814.1 1156.6,809.3"/><polygon points="1165.7,823.9 1175.0,823.9 1175.0,814.1 1165.7,814.1"/><polygon points="1174.7,823.9 1184.1,824.3 1184.1,814.1 1174.7,814.1"/><polygon points="1183.8,824.3 1193.1,828.1 1193.1,814.1 1183.8,814.1"/><polygon points="1192.8,828.1 1202.2,833.3 1202.2,814.1 1192.8,814.1"/><polygon points="1201.9,833.3 1211.2,833.3 1211.2,814.1 1201.9,814.1"/><polygon points="1210.9,833.3 1220.3,832.2 1220.3,814.1 1210.9,814.1"/><polygon points="1220.0,832.2 1229.3,831.3 1229.3,814.1 1220.0,814.1"/><polygon points="1229.0,831.3 1238.3,829.7 1238.3,814.1 1229.0,814.1"/><polygon points="1238.0,829.7 1247.4,826.4 1247.4,814.1 1238.0,814.1"/><polygon points="1247.1,826.4 1256.4,823.7 1256.4,814.1 1247.1,814.1"/><polygon points="1256.1,823.7 1265.5,825.8 1265.5,814.1 1256.1,814.1"/><polygon points="1265.2,825.8 1274.5,825.6 1274.5,814.1 1265.2,814.1"/><polygon points="1274.2,825.6 1283.6,820.1 1283.6,814.1 1274.2,814.1"/><polygon points="1283.3,820.1 1292.6,819.5 1292.6,814.1 1283.3,814.1"/><polygon points="1292.3,819.5 1301.7,818.7 1301.7,814.1 1292.3,814.1"/><polygon points="1301.4,818.7 1310.7,819.9 1310.7,814.1 1301.4,814.1"/></clipPath><g clip-path="url(#c3)"><g clip-path="url(#cc3)">
<rect x="39" y="721" width="1" height="221" fill="#d2d2d2"/>
<rect x="147" y="721" width="1" height="221" fill="#d2d2d2"/>
<rect x="256" y="721" width="1" height="221" fill="#d2d2d2"/>
<rect x="364" y="721" width="1" height="221" fill="#d2d2d2"/>
<rect x="473" y="721" width="1" height="221" fill="#d2d2d2"/>
<rect x="582" y="721" width="1" height="221" fill="#d2d2d2"/>
<rect x="690" y="721" width="1" height="221" fill="#d2d2d2"/>
<rect x="799" y="721" width="1" height="221" fill="#d2d2d2"/>
<rect x="908" y="721" width="1" height="221" fill="#d2d2d2"/>
<rect x="1016" y="721" width="1" height="221" fill="#d2d2d2"/>
<rect x="12" y="752" width="1149" height="1" fill="#d2d2d2"/>
<rect x="12" y="786" width="1149" height="1" fill="#d2d2d2"/>
<rect x="12" y="820" width="1149" height="1" fill="#d2d2d2"/>
<rect x="12" y="854" width="1149" height="1" fill="#d2d2d2"/>
</g></g>
<rect x="16" y="803" width="1" height="24" fill="#0000cc"/>
<rect x="12.5" y="803.5" width="9" height="5" fill="#fff" stroke="#0000cc" stroke-width="1"/>
<rect x="25" y="803" width="1" height="12" fill="#0000cc"/>
<rect x="21" y="803" width="10" height="11" fill="#0000cc"/>
<rect x="34" y="804" width="1" height="11" fill="#0000cc"/>
<rect x="30.5" y="807.5" width="9" height="6" fill="#fff" stroke="#0000cc" stroke-width="1"/>
<rect x="43" y="802" width="1" height="11" fill="#0000cc"/>
<rect x="39" y="805" width="10" height="2" fill="#0000cc"/>
<rect x="52" y="802" width="1" height="13" fill="#0000cc"/>
<rect x="48" y="805" width="10" height="8" fill="#0000cc"/>
<rect x="61" y="805" width="1" height="31" fill="#0000cc"/>
<rect x="57" y="812" width="10" height="10" fill="#0000cc"/>
<rect x="70" y="805" width="1" height="26" fill="#0000cc"/>
<rect x="66.5" y="808.5" width="9" height="14" fill="#fff" stroke="#0000cc" stroke-width="1"/>
<rect x="79" y="798" width="1" height="11" fill="#0000cc"/>
<rect x="75.5" y="805.5" width="9" height="2" fill="#fff" stroke="#0000cc" stroke-width="1"/>
<rect x="88" y="800" width="1" height="14" fill="#0000cc"/>
<rect x="84" y="805" width="10" height="7" fill="#0000cc"/>
<rect x="97" y="809" width="1" height="9" fill="#0000cc"/>
<rect x="93" y="811" width="10" height="1" fill="#0000cc"/>
<rect x="106" y="810" width="1" height="13" fill="#0000cc"/>
<rect x="102" y="811" width="10" height="11" fill="#0000cc"/>
<rect x="115" y="817" width="1" height="36" fill="#0000cc"/>
<rect x="111" y="821" width="10" height="19" fill="#0000cc"/>
<rect x="124" y="827" width="1" height="15" fill="#0000cc"/>
<rect x="120.5" y="836.5" width="9" height="3" fill="#fff" stroke="#0000cc" stroke-width="1"/>
<rect x="133" y="821" width="1" height="16" fill="#0000cc"/>
<rect x="129.5" y="823.5" width="9" height="12" fill="#fff" stroke="#0000cc" stroke-width="1"/>
<rect x="142" y="817" width="1" height="9" fill="#0000cc"/>
<rect x="138.5" y="820.5" width="9" height="2" fill="#fff" stroke="#0000cc" stroke-width="1"/>
<rect x="151" y="815" width="1" height="13" fill="#0000cc"/>
<rect x="147" y="820" width="10" height="1" fill="#0000cc"/>
<rect x="160" y="816" width="1" height="12" fill="#0000cc"/>
<rect x="156" y="819" width="10" height="2" fill="#0000cc"/>
<rect x="169" y="809" width="1" height="10" fill="#0000cc"/>
<rect x="165.5" y="814.5" width="9" height="4" fill="#fff" stroke="#0000cc" stroke-width="1"/>
<rect x="178" y="814" width="1" height="10" fill="#0000cc"/>
<rect x="174" y="814" width="10" height="8" fill="#0000cc"/>
<rect x="187" y="814" width="1" height="10" fill="#0000cc"/>
<rect x="183" y="821" width="10" height="1" fill="#0000cc"/>
<rect x="197" y="820" width="1" height="19" fill="#0000cc"/>
<rect x="193" y="822" width="10" height="12" fill="#0000cc"/>
<rect x="206" y="830" width="1" height="32" fill="#0000cc"/>
<rect x="202" y="833" width="10" height="10" fill="#0000cc"/>
<rect x="215" y="836" width="1" height="18" fill="#0000cc"/>
<rect x="211" y="842" width="10" height="2" fill="#0000cc"/>
<rect x="224" y="842" width="1" height="22" fill="#0000cc"/>
<rect x="220" y="843" width="10" height="18" fill="#0000cc"/>
<rect x="233" y="845" width="1" height="23" fill="#0000cc"/>
<rect x="229.5" y="848.5" width="9" height="12" fill="#fff" stroke="#0000cc" stroke-width="1"/>
<rect x="242" y="838" width="1" height="12" fill="#0000cc"/>
<rect x="238.5" y="839.5" width="9" height="8" fill="#fff" stroke="#0000cc" stroke-width="1"/>
<rect x="251" y="836" width="1" height="15" fill="#0000cc"/>
<rect x="247" y="839" width="10" height="10" fill="#0000cc"/>
<rect x="260" y="839" width="1" height="17" fill="#0000cc"/>
<rect x="256" y="849" width="10" height="5" fill="#0000cc"/>
<rect x="269" y="851" width="1" height="10" fill="#0000cc"/>
<rect x="265" y="853" width="10" height="3" fill="#0000cc"/>
<rect x="278" y="845" width="1" height="20" fill="#0000cc"/>
<rect x="274" y="854" width="10" height="2" fill="#0000cc"/>
<rect x="287" y="846" width="1" height="9" fill="#0000cc"/>
<rect x="283.5" y="846.5" width="9" height="8" fill="#fff" stroke="#0000cc" stroke-width="1"/>
<rect x="296" y="839" width="1" height="10" fill="#0000cc"/>
<rect x="292.5" y="840.5" width="9" height="5" fill="#fff" stroke="#0000cc" stroke-width="1"/>
<rect x="305" y="831" width="1" height="9" fill="#0000cc"/>
<rect x="301" y="838" width="10" height="2" fill="#0000cc"/>
<rect x="314" y="831" width="1" height="9" fill="#0000cc"/>
<rect x="310.5" y="833.5" width="9" height="4" fill="#fff" stroke="#0000cc" stroke-width="1"/>
<rect x="323" y="829" width="1" height="9" fill="#0000cc"/>
<rect x="319" y="831" width="10" height="2" fill="#0000cc"/>
<rect x="332" y="826" width="1" height="8" fill="#0000cc"/>
<rect x="328" y="830" width="10" height="3" fill="#0000cc"/>
<rect x="341" y="823" width="1" height="10" fill="#0000cc"/>
<rect x="337.5" y="824.5" width="9" height="8" fill="#fff" stroke="#0000cc" stroke-width="1"/>
<rect x="350" y="822" width="1" height="6" fill="#0000cc"/>
<rect x="346" y="824" width="10" height="1" fill="#0000cc"/>
<rect x="359" y="813" width="1" height="11" fill="#0000cc"/>
<rect x="355.5" y="813.5" width="9" height="10" fill="#fff" stroke="#0000cc" stroke-width="1"/>
<rect x="368" y="809" width="1" height="6" fill="#0000cc"/>
<rect x="364" y="812" width="10" height="1" fill="#0000cc"/>
<rect x="377" y="808" width="1" height="6" fill="#0000cc"/>
<rect x="373" y="810" width="10" height="2" fill="#0000cc"/>
<rect x="387" y="809" width="1" height="12" fill="#0000cc"/>
<rect x="383" y="810" width="10" height="5" fill="#0000cc"/>
<rect x="396" y="811" width="1" height="6" fill="#0000cc"/>
<rect x="392" y="814" width="10" height="3" fill="#0000cc"/>
<rect x="405" y="814" width="1" height="10" fill="#0000cc"/>
<rect x="401" y="817" width="10" height="1" fill="#0000cc"/>
<rect x="414" y="812" width="1" height="7" fill="#0000cc"/>
<rect x="410.5" y="813.5" width="9" height="3" fill="#fff" stroke="#0000cc" stroke-width="1"/>
<rect x="423" y="813" width="1" height="10" fill="#0000cc"/>
<rect x="419" y="813" width="10" height="5" fill="#0000cc"/>
<rect x="432" y="817" width="1" height="8" fill="#0000cc"/>
<rect x="428" y="817" width="10" height="1" fill="#0000cc"/>
<rect x="441" y="814" width="1" height="7" fill="#0000cc"/>
<rect x="437" y="818" width="10" height="2" fill="#0000cc"/>
<rect x="450" y="816" width="1" height="10" fill="#0000cc"/>
<rect x="446" y="819" width="10" height="1" fill="#0000cc"/>
<rect x="459" y="810" width="1" height="11" fill="#0000cc"/>
<rect x="455.5" y="813.5" width="9" height="6" fill="#fff" stroke="#0000cc" stroke-width="1"/>
<rect x="468" y="806" width="1" height="7" fill="#0000cc"/>
<rect x="464.5" y="807.5" width="9" height="5" fill="#fff" stroke="#0000cc" stroke-width="1"/>
<rect x="477" y="806" width="1" height="8" fill="#0000cc"/>
<rect x="473" y="807" width="10" height="5" fill="#0000cc"/>
<rect x="486" y="806" width="1" height="6" fill="#0000cc"/>
<rect x="482.5" y="808.5" width="9" height="3" fill="#fff" stroke="#0000cc" stroke-width="1"/>
<rect x="495" y="804" width="1" height="10" fill="#0000cc"/>
<rect x="491" y="808" width="10" height="4" fill="#0000cc"/>
<rect x="504" y="811" width="1" height="10" fill="#0000cc"/>
<rect x="500" y="812" width="10" height="5" fill="#0000cc"/>
<rect x="513" y="811" width="1" height="8" fill="#0000cc"/>
<rect x="509.5" y="813.5" width="9" height="3" fill="#fff" stroke="#0000cc" stroke-width="1"/>
<rect x="522" y="809" width="1" height="7" fill="#0000cc"/>
<rect x="518" y="813" width="10" height="3" fill="#0000cc"/>
<rect x="531" y="808" width="1" height="10" fill="#0000cc"/>
<rect x="527.5" y="810.5" width="9" height="5" fill="#fff" stroke="#0000cc" stroke-width="1"/>
<rect x="540" y="808" width="1" height="7" fill="#0000cc"/>
<rect x="536" y="810" width="10" height="3" fill="#0000cc"/>
<rect x="549" y="809" width="1" height="6" fill="#0000cc"/>
<rect x="545" y="811" width="10" height="1" fill="#0000cc"/>
<rect x="558" y="810" width="1" height="8" fill="#0000cc"/>
<rect x="554" y="811" width="10" height="3" fill="#0000cc"/>
<rect x="567" y="804" width="1" height="10" fill="#0000cc"/>
<rect x="563.5" y="807.5" width="9" height="5" fill="#fff" stroke="#0000cc" stroke-width="1"/>
<rect x="577" y="804" width="1" height="5" fill="#0000cc"/>
<rect x="573" y="807" width="10" height="2" fill="#0000cc"/>
<rect x="586" y="803" width="1" height="7" fill="#0000cc"/>
<rect x="582" y="806" width="10" height="2" fill="#0000cc"/>
<rect x="595" y="801" width="1" height="7" fill="#0000cc"/>
<rect x="591" y="804" width="10" height="2" fill="#0000cc"/>
<rect x="604" y="798" width="1" height="7" fill="#0000cc"/>
<rect x="600" y="802" width="10" height="2" fill="#0000cc"/>
<rect x="613" y="797" width="1" height="6" fill="#0000cc"/>
<rect x="609.5" y="797.5" width="9" height="4" fill="#fff" stroke="#0000cc" stroke-width="1"/>
<rect x="622" y="792" width="1" height="11" fill="#0000cc"/>
<rect x="618" y="797" width="10" height="4" fill="#0000cc"/>
<rect x="631" y="799" width="1" height="10" fill="#0000cc"/>
<rect x="627" y="800" width="10" height="1" fill="#0000cc"/>
<rect x="640" y="799" width="1" height="10" fill="#0000cc"/>
<rect x="636" y="800" width="10" height="1" fill="#0000cc"/>
<rect x="649" y="797" width="1" height="6" fill="#0000cc"/>
<rect x="645.5" y="797.5" width="9" height="3" fill="#fff" stroke="#0000cc" stroke-width="1"/>
<rect x="658" y="791" width="1" height="7" fill="#0000cc"/>
<rect x="654.5" y="792.5" width="9" height="4" fill="#fff" stroke="#0000cc" stroke-width="1"/>
<rect x="667" y="784" width="1" height="9" fill="#0000cc"/>
<rect x="663.5" y="786.5" width="9" height="5" fill="#fff" stroke="#0000cc" stroke-width="1"/>
<rect x="676" y="780" width="1" height="7" fill="#0000cc"/>
<rect x="672.5" y="783.5" width="9" height="2" fill="#fff" stroke="#0000cc" stroke-width="1"/>
<rect x="685" y="778" width="1" height="7" fill="#0000cc"/>
<rect x="681.5" y="779.5" width="9" height="3" fill="#fff" stroke="#0000cc" stroke-width="1"/>
<rect x="694" y="775" width="1" height="6" fill="#0000cc"/>
<rect x="690.5" y="776.5" width="9" height="2" fill="#fff" stroke="#0000cc" stroke-width="1"/>
<rect x="703" y="773" width="1" height="13" fill="#0000cc"/>
<rect x="699" y="776" width="10" height="6" fill="#0000cc"/>
<rect x="712" y="778" width="1" height="10" fill="#0000cc"/>
<rect x="708" y="781" width="10" height="1" fill="#0000cc"/>
<rect x="721" y="767" width="1" height="14" fill="#0000cc"/>
<rect x="717.5" y="769.5" width="9" height="11" fill="#fff" stroke="#0000cc" stroke-width="1"/>
<rect x="730" y="758" width="1" height="11" fill="#0000cc"/>
<rect x="726.5" y="760.5" width="9" height="8" fill="#fff" stroke="#0000cc" stroke-width="1"/>
<rect x="739" y="758" width="1" height="8" fill="#0000cc"/>
<rect x="735" y="759" width="10" height="4" fill="#0000cc"/>
<rect x="748" y="753" width="1" height="14" fill="#0000cc"/>
<rect x="744" y="763" width="10" height="3" fill="#0000cc"/>
<rect x="758" y="758" width="1" height="20" fill="#0000cc"/>
<rect x="754" y="764" width="10" height="2" fill="#0000cc"/>
<rect x="767" y="754" width="1" height="16" fill="#0000cc"/>
<rect x="763.5" y="754.5" width="9" height="9" fill="#fff" stroke="#0000cc" stroke-width="1"/>
<rect x="776" y="749" width="1" height="14" fill="#0000cc"/>
<rect x="772" y="754" width="10" height="1" fill="#0000cc"/>
<rect x="785" y="754" width="1" height="21" fill="#0000cc"/>
<rect x="781" y="754" width="10" height="10" fill="#0000cc"/>
<rect x="794" y="757" width="1" height="12" fill="#0000cc"/>
<rect x="790" y="764" width="10" height="2" fill="#0000cc"/>
<rect x="803" y="765" width="1" height="28" fill="#0000cc"/>
<rect x="799" y="765" width="10" height="11" fill="#0000cc"/>
<rect x="812" y="774" width="1" height="12" fill="#0000cc"/>
<rect x="808" y="776" width="10" height="6" fill="#0000cc"/>
<rect x="821" y="776" width="1" height="15" fill="#0000cc"/>
<rect x="817" y="782" width="10" height="1" fill="#0000cc"/>
<rect x="830" y="769" width="1" height="13" fill="#0000cc"/>
<rect x="826.5" y="773.5" width="9" height="8" fill="#fff" stroke="#0000cc" stroke-width="1"/>
<rect x="839" y="768" width="1" height="12" fill="#0000cc"/>
<rect x="835" y="773" width="10" height="3" fill="#0000cc"/>
<rect x="848" y="776" width="1" height="23" fill="#0000cc"/>
<rect x="844" y="776" width="10" height="22" fill="#0000cc"/>
<rect x="857" y="791" width="1" height="16" fill="#0000cc"/>
<rect x="853" y="797" width="10" height="1" fill="#0000cc"/>
<rect x="866" y="789" width="1" height="11" fill="#0000cc"/>
<rect x="862.5" y="794.5" width="9" height="2" fill="#fff" stroke="#0000cc" stroke-width="1"/>
<rect x="875" y="790" width="1" height="25" fill="#0000cc"/>
<rect x="871" y="794" width="10" height="12" fill="#0000cc"/>
<rect x="884" y="805" width="1" height="52" fill="#0000cc"/>
<rect x="880" y="806" width="10" height="26" fill="#0000cc"/>
<rect x="893" y="826" width="1" height="38" fill="#0000cc"/>
<rect x="889" y="832" width="10" height="9" fill="#0000cc"/>
<rect x="902" y="837" width="1" height="15" fill="#0000cc"/>
<rect x="898" y="840" width="10" height="1" fill="#0000cc"/>
<rect x="911" y="836" width="1" height="20" fill="#0000cc"/>
<rect x="907" y="841" width="10" height="14" fill="#0000cc"/>
<rect x="920" y="849" width="1" height="22" fill="#0000cc"/>
<rect x="916" y="854" width="10" height="16" fill="#0000cc"/>
<rect x="929" y="855" width="1" height="25" fill="#0000cc"/>
<rect x="925.5" y="861.5" width="9" height="9" fill="#fff" stroke="#0000cc" stroke-width="1"/>
<rect x="938" y="849" width="1" height="15" fill="#0000cc"/>
<rect x="934.5" y="852.5" width="9" height="8" fill="#fff" stroke="#0000cc" stroke-width="1"/>
<rect x="948" y="844" width="1" height="9" fill="#0000cc"/>
<rect x="944.5" y="846.5" width="9" height="5" fill="#fff" stroke="#0000cc" stroke-width="1"/>
<rect x="957" y="839" width="1" height="11" fill="#0000cc"/>
<rect x="953" y="846" width="10" height="1" fill="#0000cc"/>
<rect x="966" y="833" width="1" height="20" fill="#0000cc"/>
<rect x="962.5" y="834.5" width="9" height="12" fill="#fff" stroke="#0000cc" stroke-width="1"/>
<rect x="975" y="826" width="1" height="10" fill="#0000cc"/>
<rect x="971.5" y="829.5" width="9" height="4" fill="#fff" stroke="#0000cc" stroke-width="1"/>
<rect x="984" y="822" width="1" height="12" fill="#0000cc"/>
<rect x="980.5" y="826.5" width="9" height="3" fill="#fff" stroke="#0000cc" stroke-width="1"/>
<rect x="993" y="818" width="1" height="12" fill="#0000cc"/>
<rect x="989" y="825" width="10" height="1" fill="#0000cc"/>
<rect x="1002" y="812" width="1" height="14" fill="#0000cc"/>
<rect x="998.5" y="815.5" width="9" height="10" fill="#fff" stroke="#0000cc" stroke-width="1"/>
<rect x="1011" y="810" width="1" height="7" fill="#0000cc"/>
<rect x="1007" y="813" width="10" height="2" fill="#0000cc"/>
<rect x="1020" y="808" width="1" height="12" fill="#0000cc"/>
<rect x="1016" y="813" width="10" height="7" fill="#0000cc"/>
<rect x="1029" y="813" width="1" height="11" fill="#0000cc"/>
<rect x="1025.5" y="815.5" width="9" height="4" fill="#fff" stroke="#0000cc" stroke-width="1"/>
<rect x="1038" y="804" width="1" height="11" fill="#0000cc"/>
<rect x="1034.5" y="806.5" width="9" height="8" fill="#fff" stroke="#0000cc" stroke-width="1"/>
<rect x="1047" y="799" width="1" height="7" fill="#0000cc"/>
<rect x="1043.5" y="803.5" width="9" height="2" fill="#fff" stroke="#0000cc" stroke-width="1"/>
<rect x="1056" y="800" width="1" height="25" fill="#0000cc"/>
<rect x="1052" y="803" width="10" height="16" fill="#0000cc"/>
<rect x="1065" y="810" width="1" height="15" fill="#0000cc"/>
<rect x="1061" y="818" width="10" height="7" fill="#0000cc"/>
<rect x="1074" y="824" width="1" height="3" fill="#0000cc"/>
<rect x="1070" y="824" width="10" height="2" fill="#0000cc"/>
<g clip-path="url(#c3)">
<polyline points="704.2,832.1 713.3,832.1 722.3,832.1 731.4,832.1 740.4,832.1 749.5,832.1 758.5,832.1 767.6,832.1 776.6,832.1 785.7,833.5 794.7,835.1 803.7,835.1 812.8,835.1 821.8,834.6 830.9,833.8 839.9,832.1 849.0,831.6 858.0,829.3 867.1,829.3 876.1,829.3 885.2,829.3 894.2,828.8 903.3,825.1 912.3,823.5 921.4,822.1 930.4,821.0 939.5,818.2 948.5,818.2 957.6,815.2 966.6,810.7 975.7,810.7 984.7,803.2 993.8,800.2 1002.8,795.7 1011.9,793.8 1020.9,793.0 1029.9,790.8 1039.0,790.4 1048.0,787.9 1057.1,786.9 1066.1,786.9 1075.2,786.9 1084.2,786.9 1093.3,786.9 1102.3,786.9 1111.4,786.9 1120.4,802.4 1129.5,806.0 1138.5,806.0 1147.6,806.0 1156.6,809.3 1165.7,814.1 1174.7,814.1 1183.8,814.1 1192.8,814.1 1201.9,814.1 1210.9,814.1 1220.0,814.1 1229.0,814.1 1238.0,814.1 1247.1,814.1 1256.1,814.1 1265.2,814.1 1274.2,814.1 1283.3,814.1 1292.3,814.1 1301.4,814.1 1310.4,814.1" fill="none" stroke="#1e96ff" stroke-width="1.2"/>
<polyline points="469.0,835.0 478.0,835.0 487.1,836.1 496.1,836.2 505.2,837.8 514.2,840.3 523.3,841.6 532.3,841.8 541.4,840.5 550.4,840.2 559.5,841.8 568.5,841.2 577.5,840.5 586.6,840.2 595.6,835.5 604.7,832.9 613.7,830.1 622.8,830.0 631.8,829.6 640.9,828.5 649.9,828.3 659.0,827.1 668.0,826.2 677.1,826.2 686.1,826.5 695.2,826.8 704.2,824.8 713.3,824.8 722.3,824.8 731.4,823.8 740.4,823.8 749.5,821.4 758.5,819.9 767.6,816.4 776.6,816.3 785.7,815.8 794.7,814.7 803.7,814.5 812.8,813.5 821.8,812.0 830.9,810.7 839.9,809.0 849.0,808.5 858.0,806.2 867.1,806.2 876.1,805.3 885.2,804.2 894.2,803.7 903.3,799.9 912.3,798.3 921.4,795.6 930.4,794.5 939.5,793.4 948.5,793.3 957.6,788.8 966.6,783.2 975.7,781.5 984.7,777.1 993.8,777.1 1002.8,777.1 1011.9,775.4 1020.9,775.4 1029.9,772.8 1039.0,774.6 1048.0,774.6 1057.1,774.5 1066.1,774.5 1075.2,774.5 1084.2,776.1 1093.3,779.2 1102.3,779.7 1111.4,785.1 1120.4,807.0 1129.5,810.7 1138.5,810.7 1147.6,810.7 1156.6,815.9 1165.7,823.9 1174.7,823.9 1183.8,824.3 1192.8,828.1 1201.9,833.3 1210.9,833.3 1220.0,832.2 1229.0,831.3 1238.0,829.7 1247.1,826.4 1256.1,823.7 1265.2,825.8 1274.2,825.6 1283.3,820.1 1292.3,819.5 1301.4,818.7 1310.4,819.9" fill="none" stroke="#ff00ff" stroke-width="1.2"/>
<polyline points="233.7,832.1 242.8,832.1 251.8,832.1 260.9,832.1 269.9,832.1 279.0,832.1 288.0,832.1 297.1,832.1 306.1,832.1 315.2,833.5 324.2,837.7 333.2,837.9 342.3,837.9 351.3,837.9 360.4,837.9 369.4,837.6 378.5,837.1 387.5,837.1 396.6,837.1 405.6,837.1 414.7,837.1 423.7,837.1 432.8,837.1 441.8,837.1 450.9,837.1 459.9,837.1 469.0,834.5 478.0,834.5 487.1,834.5 496.1,833.5 505.2,833.5 514.2,828.7 523.3,825.7 532.3,821.2 541.4,821.0 550.4,820.2 559.5,817.9 568.5,817.6 577.5,815.1 586.6,813.5 595.6,812.7 604.7,811.0 613.7,810.5 622.8,808.2 631.8,808.2 640.9,808.2 649.9,808.2 659.0,807.7 668.0,804.0 677.1,802.4 686.1,798.4 695.2,797.4 704.2,796.3 713.3,796.3 722.3,793.2 731.4,788.7 740.4,788.1 749.5,784.6 758.5,784.6 767.6,784.6 776.6,782.9 785.7,782.9 794.7,781.0 803.7,778.8 812.8,778.8 821.8,778.6 830.9,778.6 839.9,778.6 849.0,778.6 858.0,778.6 867.1,778.4 876.1,781.3 885.2,802.4 894.2,806.0 903.3,806.0 912.3,806.0 921.4,809.3 930.4,814.1 939.5,814.1 948.5,814.1 957.6,814.1 966.6,814.1 975.7,814.1 984.7,814.1 993.8,814.1 1002.8,814.1 1011.9,816.5 1020.9,817.6 1029.9,821.8 1039.0,823.4 1048.0,823.4 1057.1,823.4 1066.1,823.4 1075.2,827.2" fill="none" stroke="#55bb88" stroke-width="1"/>
<polyline points="79.9,816.0 89.0,816.0 98.0,816.0 107.1,816.0 116.1,824.8 125.1,824.8 134.2,824.8 143.2,824.8 152.3,824.8 161.3,826.2 170.4,830.4 179.4,830.5 188.5,830.5 197.5,825.0 206.6,835.0 215.6,835.0 224.7,835.7 233.7,837.9 242.8,837.9 251.8,840.2 260.9,840.4 269.9,843.5 279.0,848.5 288.0,851.2 297.1,851.5 306.1,849.0 315.2,847.0 324.2,845.9 333.2,844.5 342.3,843.2 351.3,842.6 360.4,833.2 369.4,828.2 378.5,823.1 387.5,822.9 396.6,822.1 405.6,819.9 414.7,819.5 423.7,817.1 432.8,815.4 441.8,815.4 450.9,816.0 459.9,816.6 469.0,815.1 478.0,815.1 487.1,815.1 496.1,814.1 505.2,814.1 514.2,814.1 523.3,814.1 532.3,811.5 541.4,811.5 550.4,811.5 559.5,811.5 568.5,811.5 577.5,811.8 586.6,810.4 595.6,808.8 604.7,807.1 613.7,806.5 622.8,804.3 631.8,804.3 640.9,802.3 649.9,800.1 659.0,799.6 668.0,795.7 677.1,794.2 686.1,792.7 695.2,791.7 704.2,790.5 713.3,790.3 722.3,784.3 731.4,777.6 740.4,774.9 749.5,769.6 758.5,769.6 767.6,769.6 776.6,768.0 785.7,768.0 794.7,764.7 803.7,770.5 812.8,770.5 821.8,770.5 830.9,770.5 839.9,770.5 849.0,773.5 858.0,779.8 867.1,781.0 876.1,789.0 885.2,811.7 894.2,815.3 903.3,815.3 912.3,815.3 921.4,822.5 930.4,833.7 939.5,833.7 948.5,834.5 957.6,842.0 966.6,852.6 975.7,852.6 984.7,850.4 993.8,848.5 1002.8,845.4 1011.9,836.2 1020.9,829.8 1029.9,829.8 1039.0,827.9 1048.0,816.8 1057.1,815.7 1066.1,814.1 1075.2,812.7" fill="none" stroke="#ffb400" stroke-width="1"/>
<polyline points="16.6,839.4 25.6,849.2 34.7,853.6 43.7,856.2 52.8,854.4 61.8,846.1 70.9,840.0 79.9,837.9 89.0,833.4 98.0,830.6 107.1,832.9 116.1,823.8 125.1,824.1 134.2,812.7 143.2,812.9 152.3,810.5 161.3,814.6 170.4,816.9 179.4,817.5 188.5,813.3 197.5,818.5 206.6,818.3 215.6,819.8 224.7,820.2 233.7,813.4 242.8,807.2 251.8,812.4 260.9,807.8 269.9,812.4 279.0,817.4 288.0,813.1 297.1,816.3 306.1,809.9 315.2,812.6 324.2,811.5 333.2,813.5 342.3,807.2 351.3,808.6 360.4,806.1 369.4,803.8 378.5,801.6 387.5,797.3 396.6,800.7 405.6,801.4 414.7,801.4 423.7,797.3 432.8,792.2 441.8,785.5 450.9,782.8 459.9,778.9 469.0,776.0 478.0,782.3 487.1,780.7 496.1,768.8 505.2,759.5 514.2,762.9 523.3,766.2 532.3,764.0 541.4,754.4 550.4,753.9 559.5,763.5 568.5,765.8 577.5,775.7 586.6,782.3 595.6,782.3 604.7,772.7 613.7,776.2 622.8,797.9 631.8,797.9 640.9,794.4 649.9,806.2 659.0,832.3 668.0,840.7 677.1,841.2 686.1,854.6 695.2,870.0 704.2,861.0 713.3,851.6 722.3,846.0 731.4,845.8 740.4,834.4 749.5,829.0 758.5,825.6 767.6,825.4 776.6,815.0 785.7,813.4 794.7,819.6 803.7,815.0 812.8,806.0 821.8,803.3 830.9,818.5 839.9,824.6 849.0,826.3" fill="none" stroke="#22ccff" stroke-width="1"/>
</g>
<rect x="1157" y="721" width="1" height="347" fill="#9c9ce0"/>
<rect x="12.5" y="905.5" width="9" height="37" fill="#99ccff" stroke="#0000cc" stroke-width="1"/>
<rect x="21.5" y="911.5" width="9" height="31" fill="#99ccff" stroke="#0000cc" stroke-width="1"/>
<rect x="30.5" y="908.5" width="9" height="34" fill="#99ccff" stroke="#0000cc" stroke-width="1"/>
<rect x="39.5" y="903.5" width="9" height="39" fill="#99ccff" stroke="#0000cc" stroke-width="1"/>
<rect x="48.5" y="912.5" width="9" height="30" fill="#99ccff" stroke="#0000cc" stroke-width="1"/>
<rect x="57.5" y="903.5" width="9" height="39" fill="#99ccff" stroke="#0000cc" stroke-width="1"/>
<rect x="66.5" y="906.5" width="9" height="36" fill="#99ccff" stroke="#0000cc" stroke-width="1"/>
<rect x="75.5" y="908.5" width="9" height="34" fill="#99ccff" stroke="#0000cc" stroke-width="1"/>
<rect x="84.5" y="908.5" width="9" height="34" fill="#99ccff" stroke="#0000cc" stroke-width="1"/>
<rect x="93.5" y="908.5" width="9" height="34" fill="#99ccff" stroke="#0000cc" stroke-width="1"/>
<rect x="102.5" y="910.5" width="9" height="32" fill="#99ccff" stroke="#0000cc" stroke-width="1"/>
<rect x="111.5" y="906.5" width="9" height="36" fill="#99ccff" stroke="#0000cc" stroke-width="1"/>
<rect x="120.5" y="900.5" width="9" height="42" fill="#99ccff" stroke="#0000cc" stroke-width="1"/>
<rect x="129.5" y="905.5" width="9" height="37" fill="#99ccff" stroke="#0000cc" stroke-width="1"/>
<rect x="138.5" y="907.5" width="9" height="35" fill="#99ccff" stroke="#0000cc" stroke-width="1"/>
<rect x="147.5" y="900.5" width="9" height="42" fill="#99ccff" stroke="#0000cc" stroke-width="1"/>
<rect x="156.5" y="905.5" width="9" height="37" fill="#99ccff" stroke="#0000cc" stroke-width="1"/>
<rect x="165.5" y="905.5" width="9" height="37" fill="#99ccff" stroke="#0000cc" stroke-width="1"/>
<rect x="174.5" y="902.5" width="9" height="40" fill="#99ccff" stroke="#0000cc" stroke-width="1"/>
<rect x="183.5" y="904.5" width="10" height="38" fill="#99ccff" stroke="#0000cc" stroke-width="1"/>
<rect x="193.5" y="899.5" width="9" height="43" fill="#99ccff" stroke="#0000cc" stroke-width="1"/>
<rect x="202.5" y="884.5" width="9" height="58" fill="#99ccff" stroke="#0000cc" stroke-width="1"/>
<rect x="211.5" y="901.5" width="9" height="41" fill="#99ccff" stroke="#0000cc" stroke-width="1"/>
<rect x="220.5" y="903.5" width="9" height="39" fill="#99ccff" stroke="#0000cc" stroke-width="1"/>
<rect x="229.5" y="890.5" width="9" height="52" fill="#99ccff" stroke="#0000cc" stroke-width="1"/>
<rect x="238.5" y="905.5" width="9" height="37" fill="#99ccff" stroke="#0000cc" stroke-width="1"/>
<rect x="247.5" y="907.5" width="9" height="35" fill="#99ccff" stroke="#0000cc" stroke-width="1"/>
<rect x="256.5" y="900.5" width="9" height="42" fill="#99ccff" stroke="#0000cc" stroke-width="1"/>
<rect x="265.5" y="907.5" width="9" height="35" fill="#99ccff" stroke="#0000cc" stroke-width="1"/>
<rect x="274.5" y="900.5" width="9" height="42" fill="#99ccff" stroke="#0000cc" stroke-width="1"/>
<rect x="283.5" y="901.5" width="9" height="41" fill="#99ccff" stroke="#0000cc" stroke-width="1"/>
<rect x="292.5" y="899.5" width="9" height="43" fill="#99ccff" stroke="#0000cc" stroke-width="1"/>
<rect x="301.5" y="898.5" width="9" height="44" fill="#99ccff" stroke="#0000cc" stroke-width="1"/>
<rect x="310.5" y="899.5" width="9" height="43" fill="#99ccff" stroke="#0000cc" stroke-width="1"/>
<rect x="319.5" y="907.5" width="9" height="35" fill="#99ccff" stroke="#0000cc" stroke-width="1"/>
<rect x="328.5" y="900.5" width="9" height="42" fill="#99ccff" stroke="#0000cc" stroke-width="1"/>
<rect x="337.5" y="897.5" width="9" height="45" fill="#99ccff" stroke="#0000cc" stroke-width="1"/>
<rect x="346.5" y="909.5" width="9" height="33" fill="#99ccff" stroke="#0000cc" stroke-width="1"/>
<rect x="355.5" y="903.5" width="9" height="39" fill="#99ccff" stroke="#0000cc" stroke-width="1"/>
<rect x="364.5" y="896.5" width="9" height="46" fill="#99ccff" stroke="#0000cc" stroke-width="1"/>
<rect x="373.5" y="902.5" width="10" height="40" fill="#99ccff" stroke="#0000cc" stroke-width="1"/>
<rect x="383.5" y="895.5" width="9" height="47" fill="#99ccff" stroke="#0000cc" stroke-width="1"/>
<rect x="392.5" y="897.5" width="9" height="45" fill="#99ccff" stroke="#0000cc" stroke-width="1"/>
<rect x="401.5" y="900.5" width="9" height="42" fill="#99ccff" stroke="#0000cc" stroke-width="1"/>
<rect x="410.5" y="902.5" width="9" height="40" fill="#99ccff" stroke="#0000cc" stroke-width="1"/>
<rect x="419.5" y="900.5" width="9" height="42" fill="#99ccff" stroke="#0000cc" stroke-width="1"/>
<rect x="428.5" y="904.5" width="9" height="38" fill="#99ccff" stroke="#0000cc" stroke-width="1"/>
<rect x="437.5" y="904.5" width="9" height="38" fill="#99ccff" stroke="#0000cc" stroke-width="1"/>
<rect x="446.5" y="898.5" width="9" height="44" fill="#99ccff" stroke="#0000cc" stroke-width="1"/>
<rect x="455.5" y="899.5" width="9" height="43" fill="#99ccff" stroke="#0000cc" stroke-width="1"/>
<rect x="464.5" y="899.5" width="9" height="43" fill="#99ccff" stroke="#0000cc" stroke-width="1"/>
<rect x="473.5" y="897.5" width="9" height="45" fill="#99ccff" stroke="#0000cc" stroke-width="1"/>
<rect x="482.5" y="900.5" width="9" height="42" fill="#99ccff" stroke="#0000cc" stroke-width="1"/>
<rect x="491.5" y="891.5" width="9" height="51" fill="#99ccff" stroke="#0000cc" stroke-width="1"/>
<rect x="500.5" y="892.5" width="9" height="50" fill="#99ccff" stroke="#0000cc" stroke-width="1"/>
<rect x="509.5" y="898.5" width="9" height="44" fill="#99ccff" stroke="#0000cc" stroke-width="1"/>
<rect x="518.5" y="898.5" width="9" height="44" fill="#99ccff" stroke="#0000cc" stroke-width="1"/>
<rect x="527.5" y="900.5" width="9" height="42" fill="#99ccff" stroke="#0000cc" stroke-width="1"/>
<rect x="536.5" y="896.5" width="9" height="46" fill="#99ccff" stroke="#0000cc" stroke-width="1"/>
<rect x="545.5" y="894.5" width="9" height="48" fill="#99ccff" stroke="#0000cc" stroke-width="1"/>
<rect x="554.5" y="889.5" width="9" height="53" fill="#99ccff" stroke="#0000cc" stroke-width="1"/>
<rect x="563.5" y="895.5" width="10" height="47" fill="#99ccff" stroke="#0000cc" stroke-width="1"/>
<rect x="573.5" y="898.5" width="9" height="44" fill="#99ccff" stroke="#0000cc" stroke-width="1"/>
<rect x="582.5" y="891.5" width="9" height="51" fill="#99ccff" stroke="#0000cc" stroke-width="1"/>
<rect x="591.5" y="897.5" width="9" height="45" fill="#99ccff" stroke="#0000cc" stroke-width="1"/>
<rect x="600.5" y="890.5" width="9" height="52" fill="#99ccff" stroke="#0000cc" stroke-width="1"/>
<rect x="609.5" y="899.5" width="9" height="43" fill="#99ccff" stroke="#0000cc" stroke-width="1"/>
<rect x="618.5" y="886.5" width="9" height="56" fill="#99ccff" stroke="#0000cc" stroke-width="1"/>
<rect x="627.5" y="886.5" width="9" height="56" fill="#99ccff" stroke="#0000cc" stroke-width="1"/>
<rect x="636.5" y="897.5" width="9" height="45" fill="#99ccff" stroke="#0000cc" stroke-width="1"/>
<rect x="645.5" y="896.5" width="9" height="46" fill="#99ccff" stroke="#0000cc" stroke-width="1"/>
<rect x="654.5" y="898.5" width="9" height="44" fill="#99ccff" stroke="#0000cc" stroke-width="1"/>
<rect x="663.5" y="892.5" width="9" height="50" fill="#99ccff" stroke="#0000cc" stroke-width="1"/>
<rect x="672.5" y="895.5" width="9" height="47" fill="#99ccff" stroke="#0000cc" stroke-width="1"/>
<rect x="681.5" y="903.5" width="9" height="39" fill="#99ccff" stroke="#0000cc" stroke-width="1"/>
<rect x="690.5" y="896.5" width="9" height="46" fill="#99ccff" stroke="#0000cc" stroke-width="1"/>
<rect x="699.5" y="900.5" width="9" height="42" fill="#99ccff" stroke="#0000cc" stroke-width="1"/>
<rect x="708.5" y="890.5" width="9" height="52" fill="#99ccff" stroke="#0000cc" stroke-width="1"/>
<rect x="717.5" y="899.5" width="9" height="43" fill="#99ccff" stroke="#0000cc" stroke-width="1"/>
<rect x="726.5" y="893.5" width="9" height="49" fill="#99ccff" stroke="#0000cc" stroke-width="1"/>
<rect x="735.5" y="893.5" width="9" height="49" fill="#99ccff" stroke="#0000cc" stroke-width="1"/>
<rect x="744.5" y="892.5" width="10" height="50" fill="#99ccff" stroke="#0000cc" stroke-width="1"/>
<rect x="754.5" y="880.5" width="9" height="62" fill="#99ccff" stroke="#0000cc" stroke-width="1"/>
<rect x="763.5" y="905.5" width="9" height="37" fill="#99ccff" stroke="#0000cc" stroke-width="1"/>
<rect x="772.5" y="899.5" width="9" height="43" fill="#99ccff" stroke="#0000cc" stroke-width="1"/>
<rect x="781.5" y="893.5" width="9" height="49" fill="#99ccff" stroke="#0000cc" stroke-width="1"/>
<rect x="790.5" y="905.5" width="9" height="37" fill="#99ccff" stroke="#0000cc" stroke-width="1"/>
<rect x="799.5" y="884.5" width="9" height="58" fill="#99ccff" stroke="#0000cc" stroke-width="1"/>
<rect x="808.5" y="899.5" width="9" height="43" fill="#99ccff" stroke="#0000cc" stroke-width="1"/>
<rect x="817.5" y="892.5" width="9" height="50" fill="#99ccff" stroke="#0000cc" stroke-width="1"/>
<rect x="826.5" y="901.5" width="9" height="41" fill="#99ccff" stroke="#0000cc" stroke-width="1"/>
<rect x="835.5" y="906.5" width="9" height="36" fill="#99ccff" stroke="#0000cc" stroke-width="1"/>
<rect x="844.5" y="900.5" width="9" height="42" fill="#99ccff" stroke="#0000cc" stroke-width="1"/>
<rect x="853.5" y="894.5" width="9" height="48" fill="#99ccff" stroke="#0000cc" stroke-width="1"/>
<rect x="862.5" y="910.5" width="9" height="32" fill="#99ccff" stroke="#0000cc" stroke-width="1"/>
<rect x="871.5" y="894.5" width="9" height="48" fill="#99ccff" stroke="#0000cc" stroke-width="1"/>
<rect x="880.5" y="887.5" width="9" height="55" fill="#99ccff" stroke="#0000cc" stroke-width="1"/>
<rect x="889.5" y="901.5" width="9" height="41" fill="#99ccff" stroke="#0000cc" stroke-width="1"/>
<rect x="898.5" y="900.5" width="9" height="42" fill="#99ccff" stroke="#0000cc" stroke-width="1"/>
<rect x="907.5" y="902.5" width="9" height="40" fill="#99ccff" stroke="#0000cc" stroke-width="1"/>
<rect x="916.5" y="900.5" width="9" height="42" fill="#99ccff" stroke="#0000cc" stroke-width="1"/>
<rect x="925.5" y="885.5" width="9" height="57" fill="#99ccff" stroke="#0000cc" stroke-width="1"/>
<rect x="934.5" y="894.5" width="10" height="48" fill="#99ccff" stroke="#0000cc" stroke-width="1"/>
<rect x="944.5" y="898.5" width="9" height="44" fill="#99ccff" stroke="#0000cc" stroke-width="1"/>
<rect x="953.5" y="901.5" width="9" height="41" fill="#99ccff" stroke="#0000cc" stroke-width="1"/>
<rect x="962.5" y="906.5" width="9" height="36" fill="#99ccff" stroke="#0000cc" stroke-width="1"/>
<rect x="971.5" y="906.5" width="9" height="36" fill="#99ccff" stroke="#0000cc" stroke-width="1"/>
<rect x="980.5" y="901.5" width="9" height="41" fill="#99ccff" stroke="#0000cc" stroke-width="1"/>
<rect x="989.5" y="901.5" width="9" height="41" fill="#99ccff" stroke="#0000cc" stroke-width="1"/>
<rect x="998.5" y="912.5" width="9" height="30" fill="#99ccff" stroke="#0000cc" stroke-width="1"/>
<rect x="1007.5" y="908.5" width="9" height="34" fill="#99ccff" stroke="#0000cc" stroke-width="1"/>
<rect x="1016.5" y="910.5" width="9" height="32" fill="#99ccff" stroke="#0000cc" stroke-width="1"/>
<rect x="1025.5" y="911.5" width="9" height="31" fill="#99ccff" stroke="#0000cc" stroke-width="1"/>
<rect x="1034.5" y="908.5" width="9" height="34" fill="#99ccff" stroke="#0000cc" stroke-width="1"/>
<rect x="1043.5" y="906.5" width="9" height="36" fill="#99ccff" stroke="#0000cc" stroke-width="1"/>
<rect x="1052.5" y="898.5" width="9" height="44" fill="#99ccff" stroke="#0000cc" stroke-width="1"/>
<rect x="1061.5" y="899.5" width="9" height="43" fill="#99ccff" stroke="#0000cc" stroke-width="1"/>
<rect x="1070.5" y="938.5" width="9" height="4" fill="#99ccff" stroke="#0000cc" stroke-width="1"/>
<rect x="64.5" y="969.5" width="11" height="1" fill="#ffff99" stroke="#999900" stroke-width="1"/>
<rect x="112.5" y="969.5" width="8" height="2" fill="#ffff99" stroke="#999900" stroke-width="1"/>
<rect x="120.5" y="969.5" width="10" height="3" fill="#ffff99" stroke="#999900" stroke-width="1"/>
<rect x="130.5" y="969.5" width="9" height="2" fill="#ffff99" stroke="#999900" stroke-width="1"/>
<rect x="139.5" y="969.5" width="8" height="1" fill="#ffff99" stroke="#999900" stroke-width="1"/>
<rect x="147" y="970" width="11" height="1" fill="#999900"/>
<rect x="165" y="968" width="30" height="1" fill="#999900"/>
<rect x="212.5" y="969.5" width="8" height="1" fill="#ffff99" stroke="#999900" stroke-width="1"/>
<rect x="220.5" y="969.5" width="9" height="4" fill="#ffff99" stroke="#999900" stroke-width="1"/>
<rect x="229.5" y="969.5" width="10" height="4" fill="#ffff99" stroke="#999900" stroke-width="1"/>
<rect x="239.5" y="969.5" width="9" height="3" fill="#ffff99" stroke="#999900" stroke-width="1"/>
<rect x="248.5" y="969.5" width="9" height="2" fill="#ffff99" stroke="#999900" stroke-width="1"/>
<rect x="257.5" y="969.5" width="8" height="2" fill="#ffff99" stroke="#999900" stroke-width="1"/>
<rect x="265.5" y="969.5" width="9" height="2" fill="#ffff99" stroke="#999900" stroke-width="1"/>
<rect x="274.5" y="969.5" width="6" height="1" fill="#ffff99" stroke="#999900" stroke-width="1"/>
<rect x="270.5" y="969.5" width="4" height="2" fill="#ffff99" stroke="#999900" stroke-width="1"/>
<rect x="274.5" y="969.5" width="9" height="1" fill="#ffff99" stroke="#999900" stroke-width="1"/>
<rect x="292" y="968" width="11" height="1" fill="#999900"/>
<rect x="302.5" y="968.5" width="9" height="1" fill="#ffff99" stroke="#999900" stroke-width="1"/>
<rect x="311.5" y="966.5" width="9" height="3" fill="#ffff99" stroke="#999900" stroke-width="1"/>
<rect x="320.5" y="965.5" width="8" height="4" fill="#ffff99" stroke="#999900" stroke-width="1"/>
<rect x="328.5" y="964.5" width="9" height="5" fill="#ffff99" stroke="#999900" stroke-width="1"/>
<rect x="337.5" y="963.5" width="9" height="6" fill="#ffff99" stroke="#999900" stroke-width="1"/>
<rect x="346.5" y="963.5" width="10" height="6" fill="#ffff99" stroke="#999900" stroke-width="1"/>
<rect x="356.5" y="961.5" width="9" height="8" fill="#ffff99" stroke="#999900" stroke-width="1"/>
<rect x="365.5" y="961.5" width="9" height="8" fill="#ffff99" stroke="#999900" stroke-width="1"/>
<rect x="374.5" y="962.5" width="9" height="7" fill="#ffff99" stroke="#999900" stroke-width="1"/>
<rect x="383.5" y="963.5" width="9" height="6" fill="#ffff99" stroke="#999900" stroke-width="1"/>
<rect x="392.5" y="965.5" width="10" height="4" fill="#ffff99" stroke="#999900" stroke-width="1"/>
<rect x="402.5" y="966.5" width="9" height="3" fill="#ffff99" stroke="#999900" stroke-width="1"/>
<rect x="411.5" y="967.5" width="9" height="2" fill="#ffff99" stroke="#999900" stroke-width="1"/>
<rect x="420.5" y="968.5" width="8" height="1" fill="#ffff99" stroke="#999900" stroke-width="1"/>
<rect x="428" y="968" width="10" height="1" fill="#999900"/>
<rect x="555" y="970" width="11" height="1" fill="#999900"/>
<rect x="600" y="968" width="65" height="1" fill="#999900"/>
<rect x="664.5" y="968.5" width="18" height="1" fill="#ffff99" stroke="#999900" stroke-width="1"/>
<rect x="682.5" y="967.5" width="8" height="2" fill="#ffff99" stroke="#999900" stroke-width="1"/>
<rect x="690.5" y="966.5" width="9" height="3" fill="#ffff99" stroke="#999900" stroke-width="1"/>
<rect x="699.5" y="967.5" width="9" height="2" fill="#ffff99" stroke="#999900" stroke-width="1"/>
<rect x="708.5" y="968.5" width="9" height="1" fill="#ffff99" stroke="#999900" stroke-width="1"/>
<rect x="717.5" y="967.5" width="11" height="2" fill="#ffff99" stroke="#999900" stroke-width="1"/>
<rect x="728.5" y="966.5" width="8" height="3" fill="#ffff99" stroke="#999900" stroke-width="1"/>
<rect x="736.5" y="966.5" width="9" height="3" fill="#ffff99" stroke="#999900" stroke-width="1"/>
<rect x="745.5" y="967.5" width="9" height="2" fill="#ffff99" stroke="#999900" stroke-width="1"/>
<rect x="754.5" y="968.5" width="9" height="1" fill="#ffff99" stroke="#999900" stroke-width="1"/>
<rect x="763.5" y="967.5" width="9" height="2" fill="#ffff99" stroke="#999900" stroke-width="1"/>
<rect x="772.5" y="967.5" width="10" height="2" fill="#ffff99" stroke="#999900" stroke-width="1"/>
<rect x="782" y="968" width="9" height="1" fill="#999900"/>
<rect x="799.5" y="969.5" width="9" height="1" fill="#ffff99" stroke="#999900" stroke-width="1"/>
<rect x="808.5" y="969.5" width="9" height="3" fill="#ffff99" stroke="#999900" stroke-width="1"/>
<rect x="817.5" y="969.5" width="3" height="5" fill="#ffff99" stroke="#999900" stroke-width="1"/>
<rect x="810.5" y="969.5" width="7" height="3" fill="#ffff99" stroke="#999900" stroke-width="1"/>
<rect x="817.5" y="969.5" width="9" height="5" fill="#ffff99" stroke="#999900" stroke-width="1"/>
<rect x="826.5" y="969.5" width="9" height="5" fill="#ffff99" stroke="#999900" stroke-width="1"/>
<rect x="835.5" y="969.5" width="10" height="5" fill="#ffff99" stroke="#999900" stroke-width="1"/>
<rect x="845.5" y="969.5" width="9" height="8" fill="#ffff99" stroke="#999900" stroke-width="1"/>
<rect x="854.5" y="969.5" width="9" height="8" fill="#ffff99" stroke="#999900" stroke-width="1"/>
<rect x="863.5" y="969.5" width="9" height="8" fill="#ffff99" stroke="#999900" stroke-width="1"/>
<rect x="872.5" y="969.5" width="9" height="8" fill="#ffff99" stroke="#999900" stroke-width="1"/>
<rect x="881.5" y="969.5" width="9" height="11" fill="#ffff99" stroke="#999900" stroke-width="1"/>
<rect x="890.5" y="969.5" width="9" height="13" fill="#ffff99" stroke="#999900" stroke-width="1"/>
<rect x="899.5" y="969.5" width="9" height="15" fill="#ffff99" stroke="#999900" stroke-width="1"/>
<rect x="908.5" y="969.5" width="9" height="15" fill="#ffff99" stroke="#999900" stroke-width="1"/>
<rect x="917.5" y="969.5" width="9" height="17" fill="#ffff99" stroke="#999900" stroke-width="1"/>
<rect x="926.5" y="969.5" width="9" height="15" fill="#ffff99" stroke="#999900" stroke-width="1"/>
<rect x="935.5" y="969.5" width="9" height="12" fill="#ffff99" stroke="#999900" stroke-width="1"/>
<rect x="944.5" y="969.5" width="9" height="8" fill="#ffff99" stroke="#999900" stroke-width="1"/>
<rect x="953.5" y="969.5" width="9" height="5" fill="#ffff99" stroke="#999900" stroke-width="1"/>
<rect x="962" y="970" width="10" height="1" fill="#999900"/>
<rect x="971.5" y="967.5" width="9" height="2" fill="#ffff99" stroke="#999900" stroke-width="1"/>
<rect x="980.5" y="965.5" width="9" height="4" fill="#ffff99" stroke="#999900" stroke-width="1"/>
<rect x="989.5" y="962.5" width="9" height="7" fill="#ffff99" stroke="#999900" stroke-width="1"/>
<rect x="998.5" y="960.5" width="9" height="9" fill="#ffff99" stroke="#999900" stroke-width="1"/>
<rect x="1007.5" y="959.5" width="9" height="10" fill="#ffff99" stroke="#999900" stroke-width="1"/>
<rect x="1016.5" y="960.5" width="9" height="9" fill="#ffff99" stroke="#999900" stroke-width="1"/>
<rect x="1025.5" y="960.5" width="9" height="9" fill="#ffff99" stroke="#999900" stroke-width="1"/>
<rect x="1034.5" y="960.5" width="10" height="9" fill="#ffff99" stroke="#999900" stroke-width="1"/>
<rect x="1044.5" y="960.5" width="9" height="9" fill="#ffff99" stroke="#999900" stroke-width="1"/>
<rect x="1053.5" y="961.5" width="9" height="8" fill="#ffff99" stroke="#999900" stroke-width="1"/>
<rect x="1062.5" y="965.5" width="9" height="4" fill="#ffff99" stroke="#999900" stroke-width="1"/>
<rect x="1071.5" y="966.5" width="9" height="3" fill="#ffff99" stroke="#999900" stroke-width="1"/>
<rect x="12" y="969" width="1148" height="1" fill="#999900"/>
<polyline points="16.3,969.9 63.7,969.9 70.8,972.7 83.2,973.1 85.0,974.0 106.2,974.0 113.3,975.2 123.9,975.7 131.0,977.0 146.9,977.0 150.4,978.0 164.6,978.0 168.1,978.9 226.5,978.9 230.1,979.8 247.8,981.6 265.5,983.7 280.0,985.1 308.9,985.5 323.1,983.7 340.8,981.9 349.6,980.2 362.0,977.5 376.2,974.3 393.9,970.4 404.5,968.1 411.6,966.5 429.3,965.7 436.4,965.1 447.0,964.2 464.7,964.2 491.2,963.9 493.0,963.0 508.9,962.5 510.7,963.4 550.0,963.5 601.9,963.9 635.6,963.4 655.0,962.1 672.7,961.2 690.4,960.2 702.8,958.6 717.0,958.6 727.6,957.2 743.5,955.4 761.2,953.3 778.9,951.8 791.3,951.0 805.5,951.0 816.1,951.8 820.0,952.7 827.7,953.3 845.4,955.7 863.1,959.3 880.8,963.9 895.0,967.8 909.1,974.0 923.3,979.3 937.4,985.5 951.6,990.8 962.2,994.3 972.8,995.2 987.0,996.1 997.6,995.2 1008.2,994.0 1022.4,990.8 1040.1,986.0 1057.8,981.1 1075.5,976.6" fill="none" stroke="#0a9bff" stroke-width="2"/>
<polyline points="16.3,971.3 21.2,972.6 47.8,972.6 53.1,974.3 60.2,975.7 65.5,975.7 70.8,974.5 76.1,973.6 83.2,973.6 85.0,974.9 100.9,974.9 108.0,976.3 115.0,978.9 123.9,980.7 138.1,980.7 141.6,979.6 155.8,979.6 159.3,978.4 166.4,977.9 169.9,976.6 192.0,976.6 194.7,977.9 203.5,978.9 212.4,980.7 223.0,984.2 230.1,985.5 237.2,985.5 240.7,984.6 254.9,984.6 265.5,986.4 280.0,986.4 284.2,986.4 291.2,985.1 305.4,981.9 316.0,979.3 330.2,976.6 344.3,974.0 355.0,971.3 363.8,968.7 376.2,966.0 385.0,964.6 408.1,963.9 411.6,962.8 427.5,962.8 429.3,963.9 447.0,963.9 448.8,964.9 454.1,964.9 455.8,963.9 464.7,963.9 466.5,963.0 500.1,963.0 501.9,963.9 546.1,963.9 547.9,964.9 550.0,964.9 571.9,964.9 573.6,963.9 600.2,963.9 610.8,961.6 653.3,961.6 663.9,960.2 674.5,958.9 685.1,956.8 699.3,955.7 717.0,955.4 727.6,953.3 738.2,951.5 761.2,950.4 773.6,949.2 780.7,949.2 787.8,950.4 796.6,951.0 805.5,954.5 814.3,957.2 820.0,958.4 840.1,960.7 850.7,966.0 863.1,969.5 875.5,973.1 886.1,979.3 898.5,984.6 909.1,989.9 919.7,996.1 930.4,1000.0 951.6,1000.0 960.4,998.2 969.3,995.7 987.0,990.8 995.8,988.7 1004.7,984.6 1015.3,981.1 1031.2,977.5 1045.4,973.4 1056.0,971.7 1061.3,971.7 1066.6,973.1 1075.5,974.0" fill="none" stroke="#ff3300" stroke-width="2"/>
<polyline points="52.2,1041.9 61.9,1040.5 70.8,1037.5 79.6,1033.1 88.5,1029.0 97.3,1033.1 106.2,1039.3 115.0,1047.2 123.9,1052.2 132.7,1049.9 141.6,1041.9 150.4,1034.0 159.3,1027.8 169.9,1024.8 178.8,1026.5 187.6,1034.9 196.5,1048.1 200.0,1050.4 214.2,1050.8 223.0,1054.9 233.6,1054.9 242.5,1049.9 251.3,1042.8 260.2,1040.7 269.0,1044.6 280.0,1047.2 287.7,1043.7 298.3,1034.0 307.2,1026.9 316.0,1022.8 324.9,1021.6 342.6,1021.6 351.4,1023.9 362.0,1019.8 372.7,1020.7 379.7,1021.6 388.6,1026.0 397.4,1030.4 406.3,1037.5 415.1,1041.1 424.0,1044.9 431.1,1044.1 439.9,1047.2 441.7,1048.7 450.5,1046.4 459.4,1041.1 470.0,1029.5 478.8,1026.9 487.7,1024.8 496.5,1029.5 505.4,1035.7 514.2,1043.7 523.1,1051.7 531.9,1044.1 542.6,1043.7 550.0,1036.3 559.5,1036.6 570.1,1030.4 577.2,1031.7 586.0,1029.2 594.9,1027.4 603.7,1026.0 612.6,1023.7 621.4,1027.8 632.0,1035.7 641.8,1043.2 649.7,1039.3 658.6,1032.2 667.4,1023.4 676.3,1021.2 685.1,1021.2 695.8,1018.6 704.6,1023.9 713.5,1029.2 721.4,1031.0 731.2,1024.2 740.0,1020.7 750.6,1027.8 759.5,1032.2 768.3,1030.4 777.2,1026.5 786.0,1029.5 794.9,1035.7 803.7,1045.5 812.6,1049.0 820.0,1051.7 822.4,1052.6 831.2,1050.4 840.1,1048.1 848.9,1049.9 861.3,1055.7 880.8,1055.2 900.3,1054.0 907.3,1054.7 921.5,1060.5 930.4,1061.4 939.2,1055.7 948.1,1042.8 956.9,1032.2 965.8,1025.1 974.6,1021.6 983.5,1019.3 994.1,1021.6 1015.3,1022.1 1027.7,1026.9 1038.3,1030.1 1048.9,1025.1 1057.8,1034.9 1066.6,1049.0 1075.5,1063.5" fill="none" stroke="#ffbb00" stroke-width="1.8"/>
<polyline points="79.6,1043.7 92.0,1044.2 97.3,1045.5 106.2,1046.0 116.8,1053.4 125.7,1052.6 134.5,1045.5 143.4,1041.9 152.2,1047.6 161.1,1047.6 169.9,1043.4 178.8,1045.8 187.6,1043.4 197.3,1039.3 205.3,1044.6 214.2,1053.4 223.9,1060.5 233.6,1051.7 242.5,1049.9 251.3,1053.8 260.2,1053.1 269.0,1054.0 280.0,1050.8 287.7,1044.6 298.3,1040.2 307.2,1032.2 316.0,1034.9 324.0,1036.6 333.7,1030.4 342.6,1022.5 351.4,1020.2 362.0,1018.9 378.0,1020.7 386.8,1025.1 395.7,1029.5 405.4,1031.3 414.2,1026.5 423.1,1036.6 431.9,1036.6 440.8,1050.4 449.6,1051.7 460.3,1044.6 470.0,1035.7 478.8,1038.9 487.7,1034.9 496.5,1041.6 505.4,1041.6 514.2,1039.3 523.1,1039.8 531.9,1036.6 540.8,1041.1 550.0,1044.2 559.5,1042.8 568.3,1041.9 577.2,1039.3 586.0,1033.1 594.9,1034.0 605.5,1029.0 614.3,1030.1 623.2,1030.8 632.0,1031.7 640.9,1027.8 649.7,1030.1 660.4,1024.8 669.2,1022.5 695.8,1022.5 704.6,1026.9 713.5,1026.0 722.3,1023.9 731.2,1022.8 740.0,1026.9 748.8,1030.4 759.5,1031.0 768.3,1029.5 777.2,1031.0 786.0,1033.1 794.9,1034.9 803.7,1045.5 812.6,1054.3 820.0,1054.3 822.4,1053.4 831.2,1045.5 840.1,1048.1 849.8,1059.6 859.6,1059.6 866.6,1057.0 875.5,1058.8 886.1,1059.6 893.2,1060.9 902.0,1060.5 910.9,1065.8 921.5,1066.4 930.4,1060.5 939.2,1057.0 948.1,1055.7 956.9,1054.0 965.8,1042.8 974.6,1038.4 985.2,1036.3 994.1,1030.4 1002.9,1018.0 1013.5,1018.0 1022.4,1023.9 1029.5,1025.1 1040.1,1021.6 1048.9,1023.9 1057.8,1036.6 1066.6,1041.1 1071.9,1042.8 1075.5,1042.8" fill="none" stroke="#005a00" stroke-width="2"/>
<polyline points="79.6,1042.8 88.5,1047.2 97.3,1038.9 106.2,1049.9 115.0,1052.9 123.9,1054.3 134.5,1059.3 143.4,1062.3 152.2,1057.9 161.1,1048.1 169.9,1036.6 178.8,1027.8 187.6,1024.8 196.5,1034.9 205.3,1049.9 214.2,1061.4 223.9,1064.1 233.6,1068.1 242.5,1064.1 251.3,1062.3 260.2,1060.9 269.0,1058.8 280.0,1054.3 287.7,1047.2 296.5,1036.1 306.3,1036.1 315.1,1028.1 324.9,1019.8 333.7,1017.5 340.8,1016.6 379.7,1016.6 388.6,1019.8 397.4,1024.2 406.3,1029.5 415.1,1036.6 424.0,1048.1 432.8,1064.1 439.9,1065.3 450.5,1065.3 459.4,1054.3 468.2,1043.7 478.8,1032.2 487.7,1027.8 496.5,1023.4 505.4,1027.8 514.2,1032.2 523.1,1042.8 531.9,1048.1 541.7,1054.9 550.0,1043.7 559.5,1046.4 568.3,1031.3 577.2,1022.8 586.0,1022.8 594.9,1020.7 605.5,1020.2 612.6,1017.7 625.0,1017.7 635.6,1020.2 686.9,1020.2 695.8,1016.3 704.6,1018.0 711.7,1020.2 741.8,1020.2 750.6,1022.1 759.5,1024.2 768.3,1021.6 775.4,1019.8 784.2,1025.1 794.9,1035.7 803.7,1051.7 812.6,1056.1 820.0,1058.2 831.2,1062.8 840.1,1062.8 847.2,1064.1 856.0,1063.5 864.9,1061.4 877.3,1061.8 887.9,1063.5 900.3,1066.7 909.1,1067.6 930.4,1067.6 941.0,1064.1 949.8,1060.0 956.9,1054.3 965.8,1040.2 974.6,1028.7 984.3,1018.0 990.5,1016.6 1015.3,1016.6 1027.7,1019.8 1048.9,1020.2 1057.8,1026.9 1066.6,1039.3 1075.5,1055.2" fill="none" stroke="#1e96ff" stroke-width="1.6"/>
<rect x="11" y="720" width="1150" height="1" fill="#000"/>
<rect x="11" y="720" width="1" height="349" fill="#000"/>
<rect x="1160" y="720" width="1" height="349" fill="#000"/>
<rect x="11" y="1068" width="1150" height="1" fill="#000"/>
<rect x="1160" y="752" width="1" height="1" fill="#c0c0c0"/>
<rect x="1160" y="786" width="1" height="1" fill="#c0c0c0"/>
<rect x="1160" y="820" width="1" height="1" fill="#c0c0c0"/>
<rect x="1160" y="854" width="1" height="1" fill="#c0c0c0"/>
<rect x="1160" y="885" width="1" height="1" fill="#c0c0c0"/>
<rect x="1160" y="914" width="1" height="1" fill="#c0c0c0"/>
<rect x="1160" y="942" width="1" height="1" fill="#c0c0c0"/>
<rect x="1160" y="953" width="1" height="1" fill="#c0c0c0"/>
<rect x="1160" y="985" width="1" height="1" fill="#c0c0c0"/>
<rect x="1160" y="1015" width="1" height="1" fill="#c0c0c0"/>
<rect x="1160" y="1028" width="1" height="1" fill="#c0c0c0"/>
<rect x="1160" y="1041" width="1" height="1" fill="#c0c0c0"/>
<rect x="1160" y="1054" width="1" height="1" fill="#c0c0c0"/>
<text x="41" y="731.7" textLength="15.8" lengthAdjust="spacingAndGlyphs">1/1</text>
<text x="149" y="731.7" textLength="15.8" lengthAdjust="spacingAndGlyphs">2/1</text>
<text x="258" y="731.7" textLength="15.8" lengthAdjust="spacingAndGlyphs">3/1</text>
<text x="366" y="731.7" textLength="15.8" lengthAdjust="spacingAndGlyphs">4/1</text>
<text x="475" y="731.7" textLength="15.8" lengthAdjust="spacingAndGlyphs">5/1</text>
<text x="584" y="731.7" textLength="15.8" lengthAdjust="spacingAndGlyphs">6/1</text>
<text x="692" y="731.7" textLength="15.8" lengthAdjust="spacingAndGlyphs">7/1</text>
<text x="801" y="731.7" textLength="15.8" lengthAdjust="spacingAndGlyphs">8/1</text>
<text x="910" y="731.7" textLength="15.8" lengthAdjust="spacingAndGlyphs">9/1</text>
<text x="1018" y="731.7" textLength="21.3" lengthAdjust="spacingAndGlyphs">10/1</text>
<text x="1157" y="752" text-anchor="end" textLength="27.9" lengthAdjust="spacingAndGlyphs">14000</text>
<text x="1157" y="786" text-anchor="end" textLength="27.9" lengthAdjust="spacingAndGlyphs">12000</text>
<text x="1157" y="820" text-anchor="end" textLength="27.9" lengthAdjust="spacingAndGlyphs">10000</text>
<text x="1157" y="854" text-anchor="end" textLength="22.3" lengthAdjust="spacingAndGlyphs">8000</text>
<text x="1157" y="885" text-anchor="end" textLength="28.1" lengthAdjust="spacingAndGlyphs">400万</text>
<text x="1157" y="914" text-anchor="end" textLength="28.1" lengthAdjust="spacingAndGlyphs">200万</text>
<text x="1157" y="942" text-anchor="end" textLength="5.6" lengthAdjust="spacingAndGlyphs">0</text>
<text x="1157" y="953" text-anchor="end" textLength="16.7" lengthAdjust="spacingAndGlyphs">600</text>
<text x="1157" y="969" text-anchor="end" textLength="5.6" lengthAdjust="spacingAndGlyphs">0</text>
<text x="1157" y="985" text-anchor="end" textLength="21.9" lengthAdjust="spacingAndGlyphs">-600</text>
<text x="1157" y="1015" text-anchor="end" textLength="16.7" lengthAdjust="spacingAndGlyphs">100</text>
<text x="1157" y="1028" text-anchor="end" textLength="11.2" lengthAdjust="spacingAndGlyphs">75</text>
<text x="1157" y="1041" text-anchor="end" textLength="11.2" lengthAdjust="spacingAndGlyphs">50</text>
<text x="1157" y="1054" text-anchor="end" textLength="11.2" lengthAdjust="spacingAndGlyphs">25</text>
<text x="1157" y="1067" text-anchor="end" textLength="5.6" lengthAdjust="spacingAndGlyphs">0</text>
<rect x="12" y="1070" width="16" height="3" fill="#e4e4e4"/>
<rect x="28" y="1070" width="1116" height="3" fill="#c8c8c8"/>
<rect x="1144" y="1070" width="17" height="3" fill="#e4e4e4"/>
<rect x="1109" y="1069" width="17" height="4" fill="#fff"/>
<rect x="1110" y="1070" width="15" height="1" fill="#a8a8a8"/>
<rect x="1110" y="1070" width="1" height="3" fill="#a8a8a8"/>
<rect x="1124" y="1070" width="1" height="3" fill="#a8a8a8"/>
<rect x="1111" y="1071" width="13" height="2" fill="#f4f4f4"/>
</g>
</svg>
</body></html>
